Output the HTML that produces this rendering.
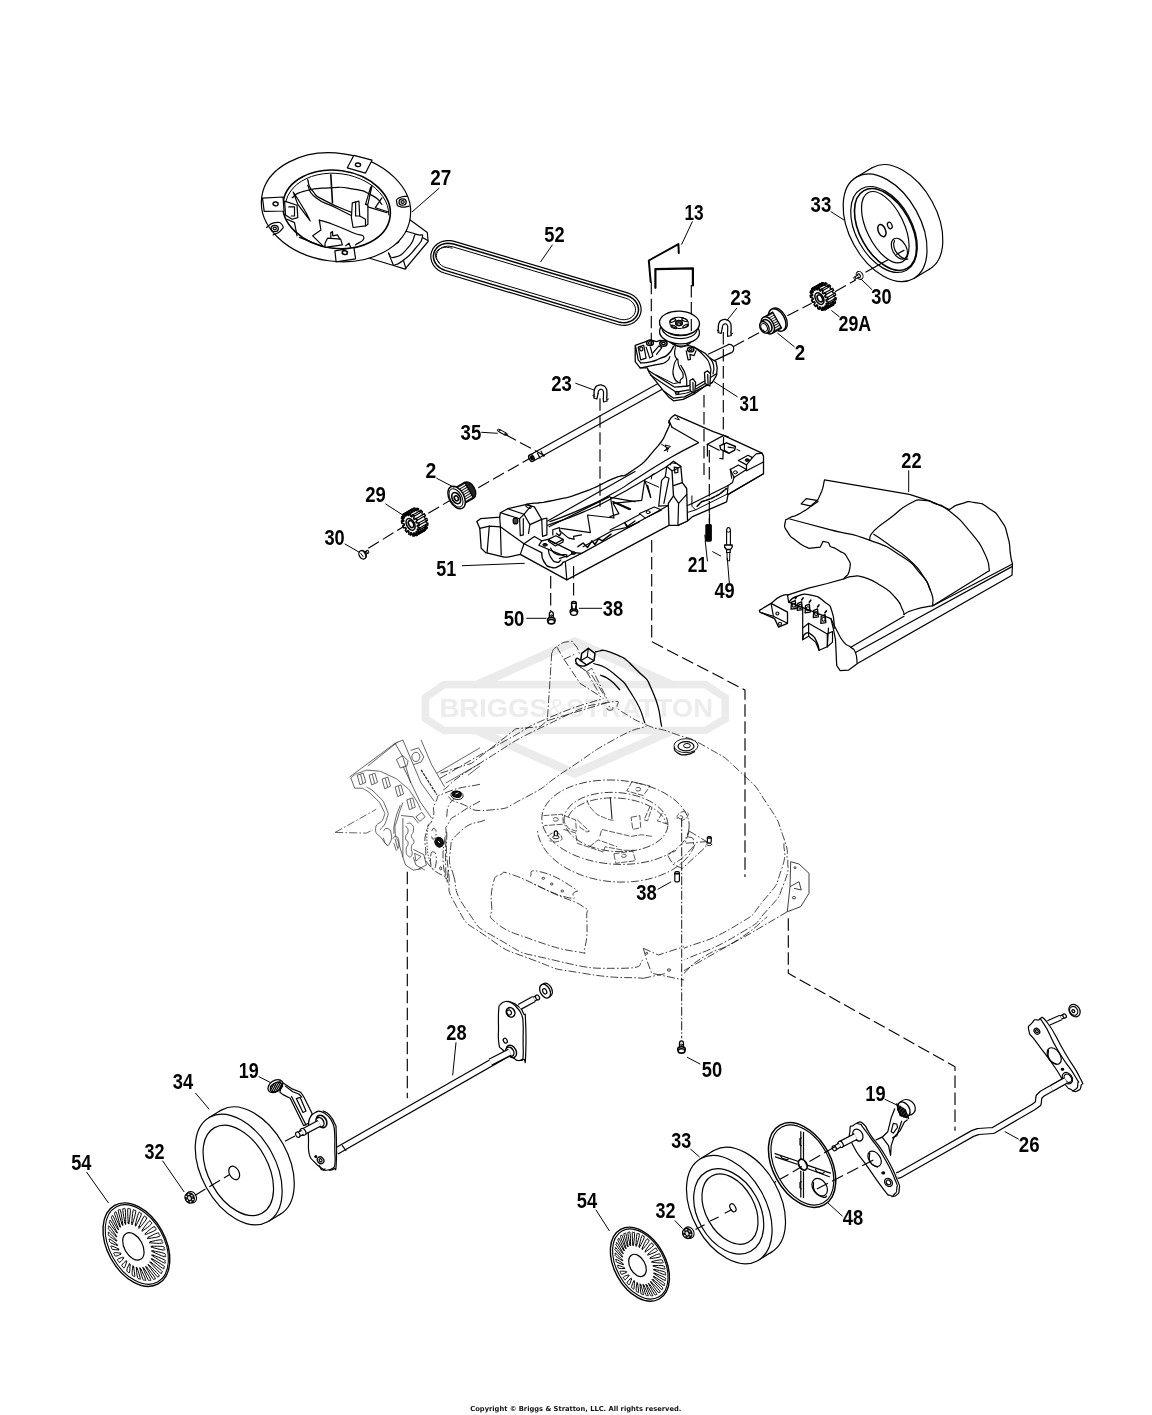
<!DOCTYPE html>
<html><head><meta charset="utf-8"><title>Parts diagram</title>
<style>
html,body{margin:0;padding:0;background:#fff}
body{width:1152px;height:1415px;overflow:hidden}
svg{display:block;will-change:transform;opacity:0.999}
.lbl{font-family:"Liberation Sans",sans-serif;font-weight:bold;font-size:22.4px;fill:#000;stroke:none;text-anchor:middle}
.cp{font-family:"DejaVu Sans","Liberation Sans",sans-serif;font-weight:bold;font-size:6.9px;fill:#111;stroke:none;text-anchor:middle}
.wm{font-family:"Liberation Sans",sans-serif;font-weight:bold;fill:#ececec;stroke:none}
</style></head><body>
<svg width="1152" height="1415" viewBox="0 0 1152 1415" fill="none" stroke="#000" stroke-width="1.2" stroke-linecap="round" stroke-linejoin="round">

<g id="p05_deck" stroke-width="0.8" stroke="#111" stroke-dasharray="8 2.2 1.6 2.2" stroke-linecap="butt">
<g stroke="#ebebeb" stroke-dasharray="none" fill="none" stroke-linejoin="miter">
<path d="M478 684.5 L574.7 641.5 L671 684.5" stroke-width="8.5"/>
<path d="M478 731 L574.7 773.5 L671 731" stroke-width="8.5"/>
<path d="M425.5 697.5 L444 684.6 L705.4 684.6 L725.2 697.5 L725.2 718.8 L705.4 730.5 L444 730.5 L425.5 718.8Z" stroke-width="7.5" fill="#fff"/>
</g>
<text class="wm" x="439.5" y="716.6" font-size="26.6" textLength="273.5" lengthAdjust="spacingAndGlyphs">BRIGGS<tspan font-weight="normal">&amp;</tspan>STRATTON</text>
<path d="M443.3 790 C455.5 781.1 444.4 785.5 480 763.3 C515.6 741.1 507.8 743.5 550 723.3 C592.2 703.1 582.8 706.6 606.7 702.7 C630.6 698.8 608.4 704.3 621.7 711.7 C635 719.1 629.5 717.8 646.7 725 C663.9 732.2 653.3 725.9 673.3 733.3 C693.3 740.7 684.5 734.5 706.7 747.3 C728.9 760.1 720 753 740 771.7 C760 790.4 752.3 781.6 766.7 803.3 C781.1 825 776.4 817.8 783.3 836.7 C790.2 855.6 786 852.2 787.3 860"/>
<path d="M440 778.3 C462.2 765.5 470 760.3 506.7 740 C543.4 719.7 517.8 731.2 550 717.3 C582.2 703.4 585.5 704.6 603.3 698.3"/>
<path d="M448.3 796.7 C452.2 798.9 446.1 798.9 460 803.3 C473.9 807.7 467.8 812.2 490 810 C512.2 807.8 501.1 810 526.7 796.7 C552.3 783.4 537.8 788.9 566.7 770 C595.6 751.1 586.6 754.7 613.3 740 C640 725.3 635.6 730.7 646.7 726"/>
<path d="M446.7 816.7 C447.8 812.2 445.6 810 450 803.3 C454.4 796.6 456.7 798.9 460 796.7"/>
<path d="M551.7 653.3 L550 680 L547.3 720.7 L540 726.7 L516 728.7 L471.7 763.3 L440 773.3"/>
<path d="M547.3 720.7 L606.7 702.7"/>
<path d="M551.7 653.3 C553.4 651.1 551.2 650.6 556.7 646.7 C562.2 642.8 562.2 642.3 568.3 641.7 C574.4 641.1 571.1 640.6 575 645 C578.9 649.4 578.3 651.7 580 655"/>
<path d="M556.7 646.7 L564 659.3 L575 654"/>
<path d="M564 659.3 L580 683.3 L603.3 698.3"/>
<path d="M575 663.3 L586.7 671.7 L600 695"/>
<path d="M580 666.7 L591.7 675 L605 696.7"/>
<path d="M586.7 671.7 L591.7 668.3 L608.3 701.7"/>
<ellipse cx="610" cy="708.3" rx="3" ry="2"/>
<path d="M784 843.3 C783.1 852.2 788 851.1 781.3 870 C774.6 888.9 779.8 881.1 764 900 C748.2 918.9 760.7 910.6 734 926.7 C707.3 942.8 700.7 941.1 684 948.3"/>
<path d="M788 860 C786.7 867.8 790.9 866.6 784 883.3 C777.1 900 782.9 892.8 767.3 910 C751.7 927.2 765.1 918.3 737.3 935 C709.5 951.7 701.8 951.7 684 960"/>
<path d="M787.3 911.7 L750.7 933.3 L717.3 951.7 L684 970.7"/>
<path d="M790.7 861.7 L799 864 L809 873.3 L809 893.3 L800.7 906.7 L787.3 911.7 L790 886.7 L790.7 861.7" stroke-dasharray="none"/>
<path d="M790 886.7 L799 881.7 L801.3 890 L794 888.3" stroke-dasharray="none"/>
<ellipse cx="795" cy="867.7" rx="1" ry="1"/>
<ellipse cx="794" cy="897.7" rx="1.6" ry="1.2"/>
<path d="M446.7 831.7 C447.2 844.5 445 845 448.3 870 C451.6 895 443.9 884.5 456.7 906.7 C469.5 928.9 461.2 918.9 486.7 936.7 C512.2 954.5 501.1 947.8 533.3 960 C565.5 972.2 546.6 967.2 583.3 973.3 C620 979.4 623.3 976.6 643.3 978.3"/>
<path d="M453.3 875 C457.8 886.7 451.1 888.3 466.7 910 C482.3 931.7 471.1 923.3 500 940 C528.9 956.7 513.3 950.6 553.3 960 C593.3 969.4 590 968.3 620 968.3 C650 968.3 635.5 962.8 643.3 960"/>
<path d="M485 820 C476.7 823.9 471.7 820.6 460 831.7 C448.3 842.8 452.2 838.9 450 853.3 C447.8 867.7 452.2 867.8 453.3 875"/>
<path d="M445 836.7 C444.4 845.6 442.2 847.8 443.3 863.3 C444.4 878.8 446.6 876.6 448.3 883.3"/>
<path d="M643.3 948.3 L646.7 960 L651.7 973.3 L684 980"/>
<path d="M643.3 948.3 L658.3 955 L684 946.7"/>
<path d="M643.3 978.3 L666.7 973.3"/>
<ellipse cx="669" cy="970" rx="1.6" ry="1.2"/>
<ellipse cx="646.7" cy="953.3" rx="1" ry="1"/>
<path d="M684 973.3 C690.7 967.8 686.2 967.8 704 956.7 C721.8 945.6 716.2 953.3 737.3 940 C758.4 926.7 757.3 924.5 767.3 916.7"/>
<path d="M500 875 C505.3 872.8 499.1 870.1 513.3 875 C527.5 879.9 534.6 884.8 553.3 893.3 C572 901.8 574.4 900.5 583.3 906.7 C592.2 912.9 586.2 906 586.7 916.7 C587.2 927.4 587.7 937.4 585 946.7 C582.3 956 590.5 953.5 576.7 951.7 C562.9 949.9 554.6 947.6 533.3 940 C512 932.4 507.8 932.2 496.7 923.3 C485.6 914.4 492.6 917.4 491.7 906.7 C490.8 896 491.1 891.8 493.3 883.3 C495.5 874.8 494.7 877.2 500 875Z"/>
<path d="M530 876.7 C533.3 875 526.1 868.4 540 871.7 C553.9 875 560.6 879.5 571.7 886.7 C582.8 893.9 575 889.8 573.3 893.3 C571.6 896.8 580 900.4 566.7 897.3 C553.4 894.2 544.4 888.4 533.3 884"/>
<ellipse cx="543.3" cy="878.3" rx="1.3" ry="1"/>
<ellipse cx="551.7" cy="884" rx="1.3" ry="1"/>
<ellipse cx="562.3" cy="891" rx="1.3" ry="1"/>
<ellipse cx="615.5" cy="822.2" rx="73.8" ry="42" transform="rotate(4 615.5 822.2)"/>
<ellipse cx="616" cy="822" rx="52" ry="29.5" transform="rotate(4 616 822)"/>
<path d="M695 844.5 L692.3 850.4 L688.6 856 L683.8 861.2 L678.1 866 L671.5 870.3 L664.1 873.9 L656.1 877 L647.4 879.4 L638.4 881 L629 882 L619.5 882.1 L609.9 881.6 L600.4 880.3 L591.2 878.2 L582.3 875.5 L574 872.1 L566.2 868.1 L559.2 863.6 L553 858.6 L547.7 853.2 L543.5 847.4 L540.3 841.4 L538.2 835.2 L537.2 829"/>
<path d="M568.2 816.9 L569.8 813.9 L571.9 811.1 L574.7 808.5 L578.1 806.1 L582 804 L586.4 802.1 L591.2 800.6 L596.3 799.4 L601.7 798.5 L607.3 798 L613.1 797.8 L618.9 798.1 L624.7 798.7 L630.3 799.6 L635.8 800.9 L641.1 802.5 L646 804.4 L650.5 806.6 L654.6 809.1 L658.1 811.7 L661.1 814.6 L663.5 817.5 L665.3 820.6 L666.4 823.8"/>
<g stroke-dasharray="6 1.5" stroke-width="0.75" stroke="#222">
<path d="M586.8 799.9 C588.8 803.4 587.4 804.5 592.9 810.3 C598.4 816.1 595.8 813.8 603.3 817.3 C610.8 820.8 611.4 819.6 615.5 820.8"/>
<path d="M610.3 797.3 L612 819" stroke-width="1.1" stroke-dasharray="none"/>
<path d="M650.2 806 L644.1 819.9 L647.6 820.8 L651.9 807.7"/>
<path d="M662.4 813 L657.2 820.8 L667.6 824.2"/>
<path d="M631.1 817.3 L639.8 815.6 L640.7 827.7 L632.8 829.4 L631.1 817.3"/>
<path d="M564.3 815.6 L575.6 819.9 L576.4 831.2 L568.6 828.6 L564.3 822.5"/>
<path d="M577.3 819.9 L589.4 831.2 L586.8 832 L578.2 826"/>
<path d="M563.4 829.4 L575.6 832.9 L577.3 843.3 L603.3 852 L605.1 846.8 L624.2 850.3 L634.6 850.3"/>
<path d="M589.4 846.8 L598.1 839.9 L617.2 846.8"/>
<path d="M599.9 836.4 L601.6 829.4 L631.1 836.4 L641.5 834.7 L651.9 836.4"/>
<path d="M632 781.7 L650.2 786 L643.3 795.6 L626.8 790.9 L632 781.7"/>
<ellipse cx="638.1" cy="789.2" rx="2.6" ry="1.8"/>
<path d="M543.4 815.6 L562.5 814.2 L563.4 824.2 L544.3 825.6"/>
<ellipse cx="555.6" cy="819.4" rx="2.6" ry="1.8"/>
<path d="M613.8 853.8 L632.8 851.1 L635.5 860.7 L615.8 863.3 L613.8 853.8"/>
<ellipse cx="623.8" cy="855.8" rx="2.4" ry="1.6"/>
<path d="M677.1 819 C677.7 817.3 676 816.1 678.9 813.8 C681.8 811.5 682.9 811.2 685.8 812.1 C688.7 813 688.9 813.5 687.5 816.4 C686.1 819.3 683.5 819.3 681.5 820.8"/>
<ellipse cx="680.6" cy="817.3" rx="2.2" ry="1.6"/>
<path d="M547.8 836.4 C550.1 835.2 550.1 832.6 554.7 832.9 C559.3 833.2 560.8 834.4 561.7 837.3 C562.6 840.2 561.4 840.5 557.3 841.6 C553.2 842.7 552.1 841 549.5 840.7"/>
</g>
<path d="M689.3 831.2 L706.6 841.6 L705.8 846.8 L682.3 868.5 L672.8 864.2 L667.6 855.1 L676.2 850.3"/>
<path d="M687.5 836.4 C689.5 838.1 693.9 835.8 693.6 841.6 C693.3 847.4 693.6 846.3 686.7 853.8 C679.8 861.3 677.4 860.7 672.8 864.2"/>
<path d="M689.3 831.2 L684.9 843.3 L706.6 841.6"/>
<g stroke-dasharray="none" stroke-width="0.7" stroke="#222">
<path d="M335.2 832.4 L376.2 809.3" stroke-dasharray="8 2.2 1.6 2.2"/>
<path d="M335.2 832.4 L366.5 833.1 L373 829.8" stroke-dasharray="8 2.2 1.6 2.2"/>
<path d="M350.8 777.8 C353.8 776.1 352.5 775 359.9 772.6 C367.3 770.2 363.4 769.7 373 770.6 C382.6 771.5 378.6 770.6 388.6 775.2 C398.6 779.8 394.7 777.4 402.9 784.3 C411.1 791.2 407.2 787.3 413.3 796 C419.4 804.7 418.5 805.5 421.1 810.3"/>
<path d="M362.6 788.2 C366.1 790.8 366.5 789.5 373 796 C379.5 802.5 378.6 800.3 382.1 807.7 C385.6 815.1 385.6 811.2 383.4 818.1 C381.2 825 376 821.5 375.6 828.5 C375.2 835.5 378.2 833.3 382.1 839 C386 844.7 385.6 843.3 387.3 845.5"/>
<path d="M366.5 786.9 C370 789.5 370.4 787.8 376.9 794.7 C383.4 801.6 382.8 799.5 386 807.7 C389.2 815.9 388.6 812 386.6 819.4 C384.6 826.8 382.3 826.3 380.1 829.8"/>
<path d="M350.8 777.8 L354.7 788.2 L362.6 788.2"/>
<path d="M349.5 777.1 L395.1 743.3 L402.9 740"/>
<path d="M367.8 766 L397.7 742"/>
<path d="M395.1 743.3 L402.9 756.9 L410.7 783"/>
<path d="M357.3 775.2 L363.2 773.2 L365.8 782.3 L359.9 784.9 L357.3 775.2"/>
<path d="M360.6 774.5 L362.8 783.2"/>
<path d="M369.1 775.2 L374.9 773.2 L377.5 782.3 L371.7 784.9 L369.1 775.2"/>
<path d="M372.3 774.5 L374.5 783.2"/>
<path d="M382.1 779.1 L387.9 777.1 L390.5 786.2 L384.7 788.8 L382.1 779.1"/>
<path d="M385.3 778.4 L387.6 787.1"/>
<path d="M395.1 786.9 L401 784.9 L403.6 794 L397.7 796.6 L395.1 786.9"/>
<path d="M398.4 786.2 L400.6 794.9"/>
<path d="M406.8 799.9 L412.7 797.9 L415.3 807.1 L409.4 809.7 L406.8 799.9"/>
<path d="M410.1 799.2 L412.3 808"/>
<path d="M415.9 816.8 L421.8 812.3 L425.1 816.8 L419.8 821.4 L415.9 816.8"/>
<path d="M402.9 802.5 C401.2 807.7 400.3 808.6 397.7 818.1 C395.1 827.6 394.7 822.4 395.1 831.1 C395.5 839.8 396.4 835.5 399 844.2 C401.6 852.9 401.6 852.9 402.9 857.2"/>
<path d="M400.3 805.1 C398.6 810.3 397.3 811.1 395.1 820.7 C392.9 830.3 394.2 829.4 393.8 833.8"/>
<path d="M401 815.5 L413.3 816.8 L418.5 823.3"/>
<path d="M402.9 818.1 L402.9 857.2 L405.5 865 L413.3 870.2 L421.1 868.9"/>
<path d="M406.8 823.3 C408.5 823.7 409.8 822 412 824.6 C414.2 827.2 413.5 827.2 413.3 831.1 C413.1 835 411.2 832.9 411.4 836.4 C411.6 839.9 414 838.1 414 841.6 C414 845.1 412.1 842.5 411.4 846.8 C410.7 851.1 413.1 851.6 412 854.6 C410.9 857.6 410 857.6 408.1 855.9 C406.2 854.2 406.2 853.7 406.2 849.4 C406.2 845.1 408.3 846.8 408.1 842.9 C407.9 839 405.5 841.6 405.5 837.7 C405.5 833.8 408.1 835 408.1 831.1 C408.1 827.2 406.4 827.6 405.5 825.9"/>
<path d="M383.4 831.1 C384.7 830.2 384.7 827.6 387.3 828.5 C389.9 829.4 390.3 829 391.2 833.8 C392.1 838.6 391.6 839.4 389.9 842.9 C388.2 846.4 388.2 845.9 386 844.2 C383.8 842.5 384.3 839.9 383.4 837.7"/>
<path d="M392.5 839 C393.8 838.1 394.2 835.1 396.4 836.4 C398.6 837.7 398.6 838.6 399 842.9 C399.4 847.2 398.1 847.2 397.7 849.4"/>
<path d="M395.1 839 L397.7 848.1"/>
<path d="M393.8 842.9 L396.4 850.7"/>
<path d="M413.3 849.4 L423.8 854.6 L426.4 865 L418.5 868.9"/>
<path d="M414.6 853.3 L421.1 856.5 L415.9 861.1 L414.6 853.3"/>
<path d="M413.3 857.2 L415.9 865 L425.1 870.2"/>
<path d="M396.4 759.5 L402.9 755.6 L408.1 760.8 L406.8 766 L400.3 768 L396.4 759.5"/>
<path d="M410.7 750.4 L418.5 747.8 L423.8 756.9 L421.1 762.1 L413.3 764.7"/>
<ellipse cx="415.9" cy="756.9" rx="4" ry="4.6"/>
<path d="M402.9 740 L413.3 764.7 L421.1 783 L434.2 801.2"/>
<path d="M421.1 740 L431.6 764.7 L444.6 786.9"/>
<path d="M402.9 766 L419.8 801.2 L431.6 818.1"/>
<path d="M421.1 769.9 L436.8 794.7" stroke-width="1.2" stroke-dasharray="3 1"/>
<path d="M436.8 773.2 L480 747.8"/>
<path d="M445.9 783 L480 763.4"/>
<path d="M468 775.2 L480 766"/>
</g>
<path d="M480 801.2 C473.4 805.1 470.7 805.5 460.2 812.9 C449.7 820.3 453.3 814.6 448.5 823.3 C443.7 832 446.8 820.1 445.9 839 C445 857.9 445.9 866.3 445.9 880"/>
<path d="M480 784.3 C469.1 786.9 462 786 447.2 792.1 C432.4 798.2 440.3 793.8 435.5 802.5 C430.7 811.2 435.9 808.6 432.9 818.1 C429.9 827.6 428.8 820.2 426.4 831.1 C424 842 424.8 839.4 425.7 850.7 C426.6 862 421.8 855.9 429 865 C436.2 874.1 441.1 873.7 447.2 878"/>
<path d="M428.3 824.6 C427.9 831.1 426.3 831.2 427 844.2 C427.7 857.2 429.2 857.2 430.3 863.7" stroke-dasharray="1.5 1.5"/>
<path d="M431.6 831.1 C432.5 830.2 432.7 827.6 434.2 828.5 C435.7 829.4 436.3 830.3 436.1 833.8 C435.9 837.3 435 838.1 433.5 839 C432 839.9 432.2 837.3 431.6 836.4"/>
<path d="M430.9 854.6 C431.6 851.1 432.1 851.7 433.5 852 C434.9 852.3 435.6 852.1 436.1 855.9 C436.6 859.7 436.4 862.8 435.5 866.3 C434.6 869.8 434.1 869.2 432.9 868.9 C431.7 868.6 431.4 868.8 430.9 865 C430.4 861.2 430.2 858.1 430.9 854.6Z"/>
<ellipse cx="440.7" cy="868.3" rx="1" ry="1.6"/>
<path d="M448.3 870 L446.7 883.3"/>
<g stroke-dasharray="none" stroke="#000">
<path d="M595 651.7 C601.1 652.2 599.4 647.2 613.3 653.3 C627.2 659.4 623.4 656.7 636.7 670 C650 683.3 645 674.4 653.3 693.3 C661.6 712.2 658.9 715.6 661.7 726.7" stroke-width="1.3"/>
<path d="M593.3 663.3 C600 666.6 600 662.2 613.3 673.3 C626.6 684.4 622.7 680 633.3 696.7 C643.9 713.4 641.1 714.4 645 723.3" stroke-width="1.2"/>
<path d="M600 675 C603.3 676.7 603.3 675 610 680 C616.7 685 616.7 686.7 620 690" stroke-width="1.4"/>
<path d="M581.7 653.3 L588.3 648.3 L595 653.3 L594 660.7 L586.7 665 L580.7 660.7Z" stroke-width="1.5" fill="#fff"/>
<path d="M580.7 660.7 C579.4 659.9 578 657.4 576.7 658.3 C575.4 659.2 575 660.7 576.7 663.3 C578.4 665.9 578.4 665.4 581.7 666 C585 666.6 585 665.3 586.7 665" stroke-width="1.4"/>
<path d="M588.3 648.3 L587.3 656.7 L594 660.7" stroke-width="1.1"/>
<path d="M587.3 656.7 L580.7 660.7" stroke-width="1.1"/>
<ellipse cx="457" cy="795.3" rx="6.2" ry="4.2" stroke-width="0.8" fill="#fff" transform="rotate(10 457 795.3)"/>
<ellipse cx="456.7" cy="794.3" rx="4.6" ry="3" stroke-width="1" fill="#111" transform="rotate(10 456.7 794.3)"/>
<ellipse cx="439.1" cy="842.2" rx="4.2" ry="5" stroke-width="1" fill="#111" transform="rotate(-20 439.1 842.2)"/>
<path d="M455.5 794 l3 -1.2 M438 841 l2 2" stroke="#fff" stroke-width="0.9"/>
<path d="M554.3 835.8 l0 -4 q1.6 -2 3.2 0 l0 4" stroke-width="1.3" fill="#fff"/>
<ellipse cx="555.9" cy="837.2" rx="3.2" ry="1.6" stroke-width="0.9"/>
<ellipse cx="686" cy="745.7" rx="12" ry="7" stroke-width="0.9"/>
<ellipse cx="686" cy="746.2" rx="8" ry="4.6" stroke-width="1.2"/>
<ellipse cx="687" cy="745.7" rx="3.4" ry="2.2" stroke-width="1.0"/>
<path d="M674 747.3 C675.1 749.1 673.1 750.2 677.3 752.7 C681.5 755.2 680.8 755.2 686.7 754.7 C692.6 754.2 692.2 752.4 695 751.3" stroke-width="1.3"/>
</g>
</g>
<g id="p10_wheels">
<ellipse cx="900.9" cy="218.4" rx="58.2" ry="35.5" fill="#fff" transform="rotate(61 900.9 218.4)"/>
<path d="M856.3 177.2 L872.1 167.8 L929.7 269 L913.9 278.4Z" fill="#fff" stroke="none"/>
<path d="M856.3 177.2 L872.1 167.8"/>
<path d="M913.9 278.4 L929.7 269"/>
<ellipse cx="885.1" cy="227.8" rx="58.2" ry="35.5" fill="#fff" transform="rotate(61 885.1 227.8)"/>
<ellipse cx="884" cy="229.5" rx="46.5" ry="28" transform="rotate(61 884 229.5)"/>
<ellipse cx="885.5" cy="229.5" rx="44.5" ry="25.5" stroke-width="1.6" transform="rotate(61 885.5 229.5)"/>
<ellipse cx="885.3" cy="227.2" rx="38.6" ry="18.6" transform="rotate(64 885.3 227.2)"/>
<ellipse cx="250.8" cy="1162.2" rx="59.8" ry="37" fill="#fff" transform="rotate(61 250.8 1162.2)"/>
<path d="M209 1117.6 L221.1 1110.3 L280.5 1214.1 L268.4 1221.4Z" fill="#fff" stroke="none"/>
<path d="M209 1117.6 L221.1 1110.3"/>
<path d="M268.4 1221.4 L280.5 1214.1"/>
<ellipse cx="238.7" cy="1169.5" rx="59.8" ry="37" fill="#fff" transform="rotate(61 238.7 1169.5)"/>
<ellipse cx="238.3" cy="1170.4" rx="48.9" ry="29.8" transform="rotate(61 238.3 1170.4)"/>
<ellipse cx="234.2" cy="1172.9" rx="7.2" ry="4.8" transform="rotate(61 234.2 1172.9)"/>
<ellipse cx="881.9" cy="230.6" rx="6.4" ry="3.6" stroke-width="1.5" transform="rotate(68 881.9 230.6)"/>
<ellipse cx="889.8" cy="225.5" rx="3.4" ry="2.2" transform="rotate(68 889.8 225.5)"/>
<ellipse cx="899.4" cy="248.7" rx="11.2" ry="7" fill="#fff" transform="rotate(62 899.4 248.7)"/>
<path d="M894.5 240.5 C894.3 242.7 892.8 242.5 894 247 C895.2 251.5 894.7 250.2 898 254 C901.3 257.8 900.7 256.8 904 258.5 C907.3 260.2 906.7 258.8 908 259"/>
<path d="M866 272 L887.6 260"/>
<path d="M896.6 254.3 L903.9 250.4"/>
<ellipse cx="742.7" cy="1201.3" rx="58.4" ry="36.7" fill="#fff" transform="rotate(61 742.7 1201.3)"/>
<path d="M700 1159.1 L713.4 1150.8 L772 1251.8 L758.6 1260.1Z" fill="#fff" stroke="none"/>
<path d="M700 1159.1 L713.4 1150.8"/>
<path d="M758.6 1260.1 L772 1251.8"/>
<ellipse cx="729.3" cy="1209.6" rx="58.4" ry="36.7" fill="#fff" transform="rotate(61 729.3 1209.6)"/>
<ellipse cx="728.7" cy="1211.4" rx="45.5" ry="31.1" transform="rotate(61 728.7 1211.4)"/>
<ellipse cx="730" cy="1209.1" rx="37.8" ry="24.3" transform="rotate(61 730 1209.1)"/>
<ellipse cx="732.9" cy="1207.8" rx="4.3" ry="2.6" transform="rotate(61 732.9 1207.8)"/>
</g>
<g id="p20_rightaxle">
<path d="M1066.6 1079.9 L1042.2 1093.6 L1038.9 1096.9 L1038.2 1103.5 L1033.3 1107.1 L993.2 1130.5 L978.3 1131.5 L972.6 1133.5 L900 1174.7 L897 1175.5" stroke="#000" stroke-width="7.2" stroke-linecap="butt" fill="none"/>
<path d="M1066.6 1079.9 L1042.2 1093.6 L1038.9 1096.9 L1038.2 1103.5 L1033.3 1107.1 L993.2 1130.5 L978.3 1131.5 L972.6 1133.5 L900 1174.7 L897 1175.5" stroke="#fff" stroke-width="4.8" stroke-linecap="butt" fill="none"/>
<path d="M1039.4 1019.4 C1042.1 1020.6 1039.1 1011.9 1047.6 1023 C1056.1 1034.1 1054.2 1034.6 1064.9 1052.7 C1075.6 1070.8 1074.4 1066.4 1079.8 1077.4 C1085.2 1088.4 1081.9 1081.2 1081.1 1085.7 C1080.3 1090.2 1080.2 1089.2 1077.3 1090.9 C1074.4 1092.6 1074 1090.9 1072.4 1090.9" fill="#fff"/>
<path d="M1031.9 1023 C1034.8 1019.3 1033.6 1019.5 1037.7 1020 C1041.8 1020.5 1037.4 1014.3 1044.3 1024.6 C1051.2 1034.9 1048.1 1033.9 1058.3 1051 C1068.5 1068.1 1068.3 1064.8 1074.8 1075.8 C1081.3 1086.8 1077.8 1079.3 1077.8 1084 C1077.8 1088.7 1077.2 1088 1074.8 1089.8 C1072.4 1091.6 1074 1091.2 1070.7 1089.3 C1067.4 1087.4 1070.1 1091.3 1064.9 1084 C1059.7 1076.7 1064.3 1081.2 1055 1067.5 C1045.7 1053.8 1045.6 1054.9 1036.9 1042.8 C1028.2 1030.7 1030.7 1037.8 1029 1031.2 C1027.3 1024.6 1029 1026.7 1031.9 1023Z" fill="#fff"/>
<ellipse cx="1036.9" cy="1031.2" rx="3.2" ry="2.6" transform="rotate(50 1036.9 1031.2)"/>
<ellipse cx="1036.9" cy="1031.2" rx="1.6" ry="1.2" transform="rotate(50 1036.9 1031.2)"/>
<ellipse cx="1054.2" cy="1056" rx="9.2" ry="5.8" transform="rotate(55 1054.2 1056)"/>
<path d="M1048.4 1050.2 C1048.7 1053.2 1046.5 1054.6 1049.3 1059.3 C1052.1 1064 1054.2 1062.6 1056.7 1064.2"/>
<ellipse cx="1062.5" cy="1069.2" rx="1.2" ry="0.9" fill="#000"/>
<ellipse cx="1067.4" cy="1078.2" rx="6.2" ry="4.6" fill="#fff" transform="rotate(55 1067.4 1078.2)"/>
<ellipse cx="1067.9" cy="1078.2" rx="4.6" ry="3.2" fill="#fff" transform="rotate(55 1067.9 1078.2)"/>
<path d="M1065.8 1080.4 L1051.7 1088.3" stroke="#000" stroke-width="7.2" stroke-linecap="butt" fill="none"/>
<path d="M1065.8 1080.4 L1051.7 1088.3" stroke="#fff" stroke-width="4.8" stroke-linecap="butt" fill="none"/>
<path d="M1048.4 1023 L1060.8 1017.5" stroke="#000" stroke-width="6.2" stroke-linecap="butt" fill="none"/>
<path d="M1048.4 1023 L1060.8 1017.5" stroke="#fff" stroke-width="3.8" stroke-linecap="butt" fill="none"/>
<path d="M1060.8 1017.5 L1064.6 1015.9" stroke="#000" stroke-width="4.8" stroke-linecap="butt" fill="none"/>
<path d="M1060.8 1017.5 L1064.6 1015.9" stroke="#fff" stroke-width="2.4" stroke-linecap="butt" fill="none"/>
<ellipse cx="1064.6" cy="1015.9" rx="2.2" ry="1.6" fill="#fff" transform="rotate(60 1064.6 1015.9)"/>
<ellipse cx="1074.5" cy="1010.6" rx="6.6" ry="5.2" fill="#fff" transform="rotate(55 1074.5 1010.6)"/>
<ellipse cx="1073.7" cy="1010.9" rx="4.6" ry="3.8" transform="rotate(55 1073.7 1010.9)"/>
<ellipse cx="1073.3" cy="1011.1" rx="1.6" ry="1.3" transform="rotate(55 1073.3 1011.1)"/>
<ellipse cx="802.1" cy="1165" rx="45.6" ry="29" stroke-width="1.5" fill="#fff" transform="rotate(61 802.1 1165)"/>
<ellipse cx="802.4" cy="1165" rx="43.2" ry="26.8" stroke-width="1.2" transform="rotate(61 802.4 1165)"/>
<path d="M800.8 1131.7 L800.8 1159.4"/>
<path d="M803.5 1132.4 L803.5 1159.2"/>
<path d="M800.8 1171.2 L800.8 1196.9"/>
<path d="M803.5 1171.9 L803.5 1197.6"/>
<path d="M775 1153.6 L797.8 1161.2"/>
<path d="M775.3 1156.9 L797.2 1164.2"/>
<path d="M807.9 1165.4 L830.4 1173.1"/>
<path d="M807.9 1168.8 L829.4 1176.7"/>
<path d="M801.1 1137.9 L800 1138.6 L800 1144.9 L801.1 1145.6"/>
<path d="M801.1 1181.7 L800 1182.4 L800 1187.9 L801.1 1188.9"/>
<path d="M780.8 1156.4 L782.2 1158.3 L787.1 1159.9 L788.5 1158.8"/>
<path d="M815.6 1169.4 L816.7 1171.7 L822.5 1173.6 L824.2 1172.6"/>
<ellipse cx="802.8" cy="1164.6" rx="5.8" ry="3.8" stroke-width="1.8" fill="#fff" transform="rotate(61 802.8 1164.6)"/>
<ellipse cx="819.7" cy="1187.2" rx="9.5" ry="6.8" fill="#fff" transform="rotate(55 819.7 1187.2)"/>
<path d="M813.5 1182.4 C814 1185.4 811.9 1186.6 814.9 1191.4 C817.9 1196.2 818.6 1195.3 822.5 1196.9 C826.4 1198.5 825.3 1196.4 826.7 1196.2"/>
<path d="M857.2 1122.6 C859.3 1123.1 858.9 1119.6 863.5 1124 C868.1 1128.4 863.9 1125.4 871.1 1135.8 C878.3 1146.2 876.4 1140.9 885 1155.3 C893.6 1169.7 892.1 1167.6 896.8 1178.9 C901.5 1190.2 899.2 1184 899.2 1189.3 C899.2 1194.6 899.2 1192.4 896.8 1194.9 C894.4 1197.4 893.5 1196.1 891.9 1196.7" fill="#fff"/>
<path d="M850 1130.3 C850.1 1123.6 850.2 1127.5 853.3 1125.4 C856.4 1123.3 855.9 1123.1 859.3 1124 C862.7 1124.9 859.6 1123.3 863.5 1128.2 C867.4 1133.1 864.4 1129.1 871.1 1138.6 C877.8 1148.1 875.7 1143.3 883.6 1156.7 C891.5 1170.1 890.3 1168.3 894.7 1178.9 C899.1 1189.5 896.9 1183.5 896.8 1188.6 C896.7 1193.7 896.7 1192 894.4 1194.2 C892.1 1196.4 893.5 1196.9 889.9 1195.3 C886.3 1193.7 890.8 1198.5 883.6 1189.3 C876.4 1180.1 878.5 1182.4 868.3 1167.8 C858.1 1153.2 859.2 1158.1 853.1 1145.6 C847 1133.1 849.9 1137 850 1130.3Z" fill="#fff"/>
<ellipse cx="874.6" cy="1158.8" rx="8.6" ry="5.6" transform="rotate(55 874.6 1158.8)"/>
<path d="M869.7 1153.2 C869.9 1156.2 867.8 1157.6 870.4 1162.2 C873 1166.8 875.1 1165.5 877.4 1167.1"/>
<ellipse cx="883.3" cy="1172.9" rx="1.4" ry="1.1" fill="#000"/>
<ellipse cx="888.5" cy="1182.4" rx="4.4" ry="3.6" fill="#fff" transform="rotate(50 888.5 1182.4)"/>
<ellipse cx="888.5" cy="1182.4" rx="2.6" ry="2.1" transform="rotate(50 888.5 1182.4)"/>
<ellipse cx="857.9" cy="1135.1" rx="6.4" ry="4.6" fill="#fff" transform="rotate(60 857.9 1135.1)"/>
<path d="M855.8 1136.5 L840.6 1144.4" stroke="#000" stroke-width="7.4" stroke-linecap="butt" fill="none"/>
<path d="M855.8 1136.5 L840.6 1144.4" stroke="#fff" stroke-width="5" stroke-linecap="butt" fill="none"/>
<ellipse cx="840.6" cy="1144.4" rx="3.4" ry="2.4" fill="#fff" transform="rotate(60 840.6 1144.4)"/>
<path d="M839.9 1145 L834.7 1148.1" stroke="#000" stroke-width="5.4" stroke-linecap="butt" fill="none"/>
<path d="M839.9 1145 L834.7 1148.1" stroke="#fff" stroke-width="3" stroke-linecap="butt" fill="none"/>
<ellipse cx="834.3" cy="1148.3" rx="2.6" ry="1.9" fill="#fff" transform="rotate(60 834.3 1148.3)"/>
<path d="M894.7 1108.8 L891.2 1117.8 L887.8 1131.7 L882.9 1136.5 L876 1140 L882.2 1137.2 L888.5 1145.6 L890.6 1155.3 L891.2 1145.6 L894 1137.2 L900.3 1130.3 L904.4 1121.9 L907.2 1119.9" fill="#fff"/>
<path d="M893.3 1123.3 L891.2 1131.7 L893.3 1133.1 L897.5 1127.5 L896.8 1124Z"/>
<path d="M901.7 1121.2 L896.8 1135.8 L892.6 1137.9"/>
<ellipse cx="907.2" cy="1107.4" rx="8.6" ry="7.4" fill="#fff" transform="rotate(40 907.2 1107.4)"/>
<ellipse cx="903.8" cy="1109.4" rx="8" ry="5.6" stroke-width="1.4" fill="#fff" transform="rotate(60 903.8 1109.4)"/>
<path d="M896.8 1103.9 L900.3 1115.7" stroke-width="1.4"/>
<path d="M898.5 1105 L901.9 1116.2" stroke-width="1.4"/>
<path d="M900.1 1106.1 L903.6 1116.8" stroke-width="1.4"/>
<path d="M901.8 1107.2 L905.3 1117.4" stroke-width="1.4"/>
<path d="M903.5 1108.3 L906.9 1117.9" stroke-width="1.4"/>
<path d="M905.1 1109.4 L908.6 1118.5" stroke-width="1.4"/>
</g>
<g id="p21_leftaxle">
<ellipse cx="136.4" cy="1244.7" rx="44.9" ry="29" stroke-width="1.4" fill="#fff" transform="rotate(61 136.4 1244.7)"/>
<ellipse cx="136.8" cy="1244.5" rx="42.9" ry="27.2" stroke-width="1.1" transform="rotate(61 136.8 1244.5)"/>
<ellipse cx="133.4" cy="1246.4" rx="14.8" ry="9.1" stroke-width="1.2" transform="rotate(61 133.4 1246.4)"/>
<path d="M147.2 1267.7 C149.2 1270.1 153 1274.7 154.7 1277.3 C156.4 1280 154.9 1278.6 154.4 1278.8 C153.9 1279 154.5 1280.8 152.6 1278.3 C150.7 1275.8 148 1270.7 146.4 1268.1 C144.9 1265.4 145.9 1267 146 1266.9 C146.2 1266.8 145.1 1265.2 147.2 1267.7Z" stroke-width="1.0"/>
<path d="M144.2 1268.9 C145.9 1271.4 149.1 1276.3 150.4 1279 C151.7 1281.6 150.3 1280.1 149.8 1280.1 C149.2 1280.2 149.4 1281.9 147.9 1279.3 C146.4 1276.7 144.5 1271.7 143.4 1269.1 C142.3 1266.4 143 1268 143.2 1268 C143.3 1268 142.5 1266.3 144.2 1268.9Z" stroke-width="1.0"/>
<path d="M140.9 1269.2 C142.2 1271.8 144.6 1276.7 145.5 1279.2 C146.3 1281.8 145.2 1280.2 144.6 1280.1 C144 1280 143.9 1281.4 142.8 1278.9 C141.7 1276.3 140.6 1271.6 140 1269.2 C139.3 1266.7 139.7 1268.2 139.9 1268.2 C140.1 1268.2 139.6 1266.6 140.9 1269.2Z" stroke-width="1.0"/>
<path d="M137.3 1268.7 C138.2 1271.1 139.8 1275.9 140.2 1278.2 C140.6 1280.5 139.8 1278.9 139.1 1278.7 C138.5 1278.4 138.1 1279.6 137.5 1277.2 C136.8 1274.8 136.6 1270.6 136.4 1268.4 C136.1 1266.1 136.3 1267.5 136.5 1267.6 C136.7 1267.6 136.4 1266.2 137.3 1268.7Z" stroke-width="1.0"/>
<path d="M133.6 1267.2 C134 1269.5 134.8 1273.8 134.8 1275.9 C134.8 1277.9 134.2 1276.3 133.6 1275.9 C132.9 1275.5 132.3 1276.4 132.1 1274.2 C131.9 1272.1 132.5 1268.6 132.7 1266.7 C132.9 1264.8 132.8 1266 133 1266.1 C133.2 1266.2 133.2 1264.9 133.6 1267.2Z" stroke-width="1.0"/>
<path d="M130 1264.9 C130 1266.9 129.9 1270.7 129.5 1272.3 C129.1 1274 128.7 1272.5 128.1 1272 C127.5 1271.5 126.6 1271.9 126.9 1270.1 C127.1 1268.3 128.5 1265.7 129.1 1264.2 C129.7 1262.8 129.3 1263.7 129.5 1263.8 C129.7 1264 130 1263 130 1264.9Z" stroke-width="1.0"/>
<path d="M126.5 1261.9 C126.1 1263.5 125.3 1266.6 124.4 1267.7 C123.6 1268.9 123.6 1267.6 123 1267 C122.5 1266.3 121.4 1266.4 122 1265 C122.7 1263.7 124.7 1262 125.7 1261.1 C126.7 1260.1 126.1 1260.7 126.3 1260.9 C126.5 1261.1 126.9 1260.3 126.5 1261.9Z" stroke-width="1.0"/>
<path d="M123.4 1258.3 C122.6 1259.4 121 1261.6 119.9 1262.2 C118.7 1262.9 118.9 1261.8 118.5 1261.1 C118 1260.4 116.8 1260.1 117.8 1259.2 C118.7 1258.3 121.3 1257.7 122.6 1257.3 C123.9 1256.9 123.1 1257.1 123.3 1257.4 C123.5 1257.6 124.2 1257.2 123.4 1258.3Z" stroke-width="1.0"/>
<path d="M120.6 1254.2 C119.5 1254.8 117.3 1256 115.9 1256.1 C114.5 1256.2 115 1255.4 114.6 1254.6 C114.2 1253.8 112.9 1253.1 114.2 1252.7 C115.5 1252.4 118.5 1252.9 120 1253.1 C121.5 1253.2 120.6 1253.1 120.7 1253.4 C120.9 1253.7 121.8 1253.6 120.6 1254.2Z" stroke-width="1.0"/>
<path d="M118.4 1249.8 C117.1 1249.8 114.4 1249.9 112.8 1249.5 C111.2 1249 111.9 1248.5 111.6 1247.7 C111.3 1246.9 110 1245.8 111.5 1246 C113 1246.2 116.3 1247.9 118 1248.6 C119.7 1249.3 118.6 1248.9 118.7 1249.1 C118.8 1249.4 119.8 1249.7 118.4 1249.8Z" stroke-width="1.0"/>
<path d="M116.9 1245.2 C115.3 1244.7 112.3 1243.7 110.6 1242.7 C108.8 1241.6 109.7 1241.5 109.5 1240.7 C109.4 1239.9 108.2 1238.5 109.8 1239.2 C111.4 1240 114.8 1242.7 116.6 1244 C118.3 1245.3 117.2 1244.5 117.3 1244.8 C117.4 1245 118.4 1245.7 116.9 1245.2Z" stroke-width="1.0"/>
<path d="M116 1240.6 C114.3 1239.6 111.1 1237.5 109.3 1236 C107.6 1234.4 108.6 1234.6 108.5 1233.8 C108.5 1233.1 107.4 1231.3 109.1 1232.6 C110.8 1234 114.1 1237.6 115.9 1239.5 C117.6 1241.3 116.5 1240.2 116.6 1240.4 C116.6 1240.7 117.7 1241.6 116 1240.6Z" stroke-width="1.0"/>
<path d="M115.8 1236.2 C114.1 1234.7 110.8 1231.6 109.1 1229.6 C107.5 1227.5 108.6 1228.1 108.6 1227.4 C108.7 1226.7 107.8 1224.7 109.5 1226.5 C111.2 1228.3 114.2 1232.9 115.9 1235.2 C117.5 1237.4 116.5 1236 116.5 1236.3 C116.5 1236.5 117.5 1237.8 115.8 1236.2Z" stroke-width="1.0"/>
<path d="M116.3 1232.2 C114.7 1230.2 111.6 1226.2 110 1223.8 C108.5 1221.3 109.6 1222.2 109.8 1221.6 C110 1221 109.3 1218.8 110.9 1221.1 C112.5 1223.4 115.1 1228.6 116.6 1231.3 C118 1234 117.1 1232.3 117.1 1232.5 C117 1232.7 118 1234.3 116.3 1232.2Z" stroke-width="1.0"/>
<path d="M117.6 1228.7 C116.1 1226.3 113.2 1221.6 111.9 1218.8 C110.6 1215.9 111.7 1217.2 112 1216.7 C112.3 1216.2 111.9 1213.9 113.3 1216.6 C114.7 1219.2 116.8 1225 118 1228 C119.2 1230.9 118.5 1229.1 118.4 1229.3 C118.3 1229.5 119.1 1231.2 117.6 1228.7Z" stroke-width="1.0"/>
<path d="M119.5 1225.9 C118.2 1223.1 115.8 1217.8 114.8 1214.7 C113.8 1211.7 114.8 1213.2 115.2 1212.8 C115.6 1212.4 115.4 1210.2 116.5 1213.1 C117.7 1216 119.2 1222.2 120 1225.3 C120.9 1228.5 120.4 1226.5 120.2 1226.7 C120.1 1226.8 120.7 1228.7 119.5 1225.9Z" stroke-width="1.0"/>
<path d="M121.9 1223.8 C121 1220.8 119.1 1215.1 118.5 1211.9 C117.8 1208.7 118.7 1210.4 119.2 1210.2 C119.7 1210 119.8 1207.8 120.6 1210.9 C121.4 1214 122.2 1220.2 122.7 1223.5 C123.1 1226.7 122.8 1224.7 122.7 1224.8 C122.5 1224.9 122.9 1226.9 121.9 1223.8Z" stroke-width="1.0"/>
<path d="M124.9 1222.6 C124.3 1219.5 123.1 1213.5 122.8 1210.3 C122.6 1207.1 123.3 1208.9 123.8 1208.9 C124.4 1208.8 124.8 1206.8 125.3 1210 C125.7 1213.1 125.7 1219.2 125.7 1222.4 C125.8 1225.7 125.7 1223.7 125.5 1223.7 C125.4 1223.8 125.5 1225.8 124.9 1222.6Z" stroke-width="1.0"/>
<path d="M128.2 1222.3 C128 1219.1 127.6 1213.1 127.7 1210 C127.9 1206.9 128.4 1208.8 129 1208.9 C129.6 1209 130.4 1207.2 130.4 1210.3 C130.4 1213.5 129.5 1219.3 129.1 1222.3 C128.7 1225.4 129 1223.5 128.8 1223.5 C128.6 1223.5 128.5 1225.4 128.2 1222.3Z" stroke-width="1.0"/>
<path d="M131.8 1222.8 C132 1219.8 132.4 1213.9 133 1211 C133.6 1208.1 133.8 1210.1 134.5 1210.3 C135.1 1210.6 136.1 1209.1 135.7 1212.1 C135.3 1215 133.6 1220.3 132.7 1223.1 C131.9 1226 132.4 1224.2 132.2 1224.2 C132 1224.1 131.6 1225.9 131.8 1222.8Z" stroke-width="1.0"/>
<path d="M135.5 1224.3 C136.1 1221.4 137.3 1216 138.4 1213.4 C139.5 1210.7 139.4 1212.7 140 1213.1 C140.7 1213.5 142 1212.3 141.1 1215 C140.3 1217.8 137.7 1222.3 136.4 1224.8 C135.2 1227.3 135.9 1225.7 135.7 1225.6 C135.5 1225.5 134.9 1227.2 135.5 1224.3Z" stroke-width="1.0"/>
<path d="M139.1 1226.6 C140.2 1224 142.2 1219.1 143.7 1216.9 C145.2 1214.7 144.9 1216.5 145.5 1217 C146.1 1217.5 147.6 1216.7 146.3 1219.1 C145.1 1221.5 141.7 1225.2 140 1227.3 C138.4 1229.3 139.4 1228.1 139.2 1227.9 C139 1227.7 138.1 1229.1 139.1 1226.6Z" stroke-width="1.0"/>
<path d="M142.6 1229.6 C144.1 1227.4 146.9 1223.3 148.8 1221.5 C150.6 1219.7 150 1221.4 150.6 1222 C151.1 1222.7 152.8 1222.2 151.2 1224.2 C149.5 1226.2 145.5 1228.9 143.4 1230.4 C141.4 1232 142.6 1231 142.4 1230.8 C142.2 1230.6 141.1 1231.8 142.6 1229.6Z" stroke-width="1.0"/>
<path d="M145.7 1233.2 C147.6 1231.5 151.1 1228.2 153.3 1227 C155.5 1225.7 154.7 1227.2 155.1 1227.9 C155.6 1228.6 157.5 1228.6 155.4 1230.1 C153.4 1231.5 148.8 1233.2 146.5 1234.2 C144.1 1235.2 145.6 1234.6 145.4 1234.4 C145.2 1234.1 143.9 1234.9 145.7 1233.2Z" stroke-width="1.0"/>
<path d="M148.5 1237.3 C150.6 1236.1 154.8 1233.8 157.3 1233.1 C159.7 1232.5 158.6 1233.6 159 1234.4 C159.4 1235.2 161.3 1235.5 159 1236.5 C156.7 1237.4 151.7 1238 149.1 1238.4 C146.5 1238.9 148.1 1238.6 148 1238.3 C147.8 1238.1 146.3 1238.5 148.5 1237.3Z" stroke-width="1.0"/>
<path d="M150.7 1241.7 C153.1 1241.1 157.8 1239.9 160.4 1239.8 C163.1 1239.6 161.7 1240.5 162 1241.3 C162.3 1242.1 164.2 1242.8 161.7 1243.2 C159.1 1243.6 153.9 1243.1 151.1 1242.9 C148.4 1242.8 150.1 1242.9 150 1242.6 C149.9 1242.3 148.2 1242.4 150.7 1241.7Z" stroke-width="1.0"/>
<path d="M152.2 1246.3 C154.9 1246.2 159.9 1246.1 162.6 1246.5 C165.4 1247 163.9 1247.5 164.1 1248.3 C164.2 1249.1 166.1 1250.2 163.4 1250 C160.7 1249.8 155.3 1248.2 152.5 1247.5 C149.7 1246.8 151.5 1247.2 151.4 1247 C151.3 1246.7 149.6 1246.4 152.2 1246.3Z" stroke-width="1.0"/>
<path d="M153.1 1250.9 C155.9 1251.4 161.1 1252.3 163.9 1253.3 C166.7 1254.3 165 1254.4 165.1 1255.2 C165.1 1255.9 166.9 1257.3 164.1 1256.6 C161.3 1255.9 156 1253.3 153.2 1252 C150.5 1250.8 152.2 1251.6 152.1 1251.3 C152.1 1251 150.4 1250.4 153.1 1250.9Z" stroke-width="1.0"/>
<path d="M153.3 1255.3 C156.1 1256.3 161.3 1258.2 164.1 1259.7 C166.8 1261.1 165 1260.9 165 1261.6 C164.9 1262.3 166.5 1263.9 163.7 1262.7 C161 1261.5 155.9 1258 153.2 1256.3 C150.6 1254.6 152.2 1255.7 152.2 1255.4 C152.2 1255.2 150.5 1254.3 153.3 1255.3Z" stroke-width="1.0"/>
<path d="M152.8 1259.3 C155.5 1260.7 160.6 1263.6 163.2 1265.5 C165.8 1267.4 164 1266.8 163.8 1267.4 C163.6 1268 165 1269.8 162.3 1268.1 C159.7 1266.4 155 1262.3 152.5 1260.2 C150 1258.1 151.6 1259.4 151.6 1259.2 C151.7 1259 150.1 1257.8 152.8 1259.3Z" stroke-width="1.0"/>
<path d="M151.5 1262.8 C154.1 1264.6 158.9 1268.2 161.3 1270.5 C163.6 1272.7 161.9 1271.8 161.6 1272.3 C161.3 1272.8 162.4 1274.7 159.9 1272.6 C157.5 1270.6 153.3 1265.9 151.1 1263.5 C148.9 1261.2 150.2 1262.6 150.3 1262.4 C150.4 1262.3 149 1260.9 151.5 1262.8Z" stroke-width="1.0"/>
<path d="M149.6 1265.6 C152 1267.8 156.4 1272 158.4 1274.5 C160.5 1277 158.8 1275.8 158.4 1276.2 C158 1276.6 158.8 1278.4 156.7 1276.1 C154.5 1273.8 151 1268.8 149.1 1266.2 C147.1 1263.6 148.3 1265.2 148.5 1265.1 C148.6 1264.9 147.3 1263.4 149.6 1265.6Z" stroke-width="1.0"/>
<ellipse cx="639.9" cy="1264.2" rx="39.8" ry="25.6" stroke-width="1.4" fill="#fff" transform="rotate(61 639.9 1264.2)"/>
<ellipse cx="640.3" cy="1264" rx="37.8" ry="23.8" stroke-width="1.1" transform="rotate(61 640.3 1264)"/>
<ellipse cx="637.5" cy="1265.4" rx="12" ry="7.6" stroke-width="1.2" transform="rotate(61 637.5 1265.4)"/>
<path d="M649.6 1284.4 C651.4 1286.5 654.7 1290.8 656.2 1293.1 C657.7 1295.4 656.4 1294.2 655.9 1294.4 C655.5 1294.6 655.9 1296.2 654.3 1294 C652.7 1291.7 650.3 1287.1 649 1284.7 C647.6 1282.3 648.5 1283.8 648.6 1283.7 C648.8 1283.6 647.8 1282.2 649.6 1284.4Z" stroke-width="1.0"/>
<path d="M647 1285.4 C648.5 1287.7 651.2 1292.2 652.3 1294.5 C653.5 1296.9 652.3 1295.5 651.8 1295.6 C651.3 1295.6 651.5 1297.1 650.2 1294.8 C648.9 1292.5 647.2 1288 646.3 1285.6 C645.3 1283.2 645.9 1284.7 646.1 1284.6 C646.2 1284.6 645.5 1283.1 647 1285.4Z" stroke-width="1.0"/>
<path d="M644 1285.7 C645.2 1288 647.3 1292.5 648 1294.8 C648.8 1297 647.8 1295.6 647.2 1295.5 C646.7 1295.4 646.6 1296.7 645.7 1294.4 C644.7 1292.1 643.8 1287.9 643.3 1285.7 C642.7 1283.4 643 1284.8 643.2 1284.8 C643.4 1284.8 642.9 1283.4 644 1285.7Z" stroke-width="1.0"/>
<path d="M640.9 1285.2 C641.6 1287.5 643 1291.7 643.4 1293.8 C643.7 1295.9 643 1294.5 642.4 1294.2 C641.8 1294 641.5 1295.1 640.9 1292.9 C640.4 1290.7 640.2 1287 640.1 1285 C639.9 1282.9 640 1284.2 640.2 1284.2 C640.4 1284.3 640.2 1283 640.9 1285.2Z" stroke-width="1.0"/>
<path d="M637.6 1283.9 C638 1286 638.6 1289.9 638.6 1291.8 C638.6 1293.6 638 1292.2 637.5 1291.8 C636.9 1291.5 636.3 1292.2 636.2 1290.3 C636 1288.3 636.6 1285.2 636.8 1283.5 C637 1281.8 636.9 1282.8 637.1 1282.9 C637.3 1283 637.3 1281.9 637.6 1283.9Z" stroke-width="1.0"/>
<path d="M634.4 1281.9 C634.4 1283.7 634.3 1287.1 633.9 1288.6 C633.5 1290.1 633.2 1288.8 632.7 1288.3 C632.1 1287.9 631.4 1288.3 631.6 1286.6 C631.8 1285 633 1282.6 633.6 1281.3 C634.2 1280 633.8 1280.8 634 1280.9 C634.2 1281.1 634.5 1280.1 634.4 1281.9Z" stroke-width="1.0"/>
<path d="M631.4 1279.3 C631 1280.7 630.2 1283.5 629.4 1284.5 C628.7 1285.6 628.7 1284.4 628.2 1283.9 C627.7 1283.3 626.7 1283.4 627.3 1282.1 C627.9 1280.9 629.7 1279.4 630.6 1278.5 C631.5 1277.6 631 1278.1 631.1 1278.3 C631.3 1278.5 631.8 1277.8 631.4 1279.3Z" stroke-width="1.0"/>
<path d="M628.6 1276 C627.8 1277.1 626.4 1279 625.4 1279.7 C624.3 1280.3 624.5 1279.3 624.1 1278.7 C623.7 1278 622.6 1277.8 623.5 1276.9 C624.4 1276.1 626.7 1275.5 627.9 1275.1 C629.1 1274.7 628.4 1275 628.5 1275.2 C628.7 1275.4 629.3 1275 628.6 1276Z" stroke-width="1.0"/>
<path d="M626.1 1272.4 C625.1 1273 623.2 1274.1 621.9 1274.2 C620.6 1274.3 621 1273.6 620.7 1272.9 C620.3 1272.2 619.2 1271.6 620.4 1271.3 C621.5 1270.9 624.2 1271.3 625.6 1271.4 C627 1271.5 626.1 1271.4 626.3 1271.7 C626.4 1271.9 627.2 1271.8 626.1 1272.4Z" stroke-width="1.0"/>
<path d="M624.2 1268.5 C622.9 1268.6 620.5 1268.7 619.1 1268.3 C617.7 1268 618.3 1267.5 618 1266.8 C617.8 1266.1 616.6 1265.1 618 1265.3 C619.3 1265.4 622.3 1266.8 623.8 1267.4 C625.3 1268 624.4 1267.7 624.5 1267.9 C624.6 1268.1 625.5 1268.4 624.2 1268.5Z" stroke-width="1.0"/>
<path d="M622.8 1264.4 C621.4 1264 618.7 1263.2 617.1 1262.3 C615.6 1261.4 616.4 1261.3 616.2 1260.6 C616 1259.9 615 1258.6 616.4 1259.3 C617.9 1259.9 621 1262.2 622.5 1263.3 C624.1 1264.5 623.1 1263.8 623.2 1264 C623.3 1264.3 624.2 1264.8 622.8 1264.4Z" stroke-width="1.0"/>
<path d="M622 1260.3 C620.5 1259.5 617.6 1257.7 616 1256.4 C614.5 1255 615.4 1255.2 615.3 1254.5 C615.3 1253.8 614.3 1252.3 615.8 1253.4 C617.4 1254.6 620.3 1257.8 621.9 1259.3 C623.5 1260.9 622.5 1259.9 622.5 1260.2 C622.6 1260.4 623.5 1261.2 622 1260.3Z" stroke-width="1.0"/>
<path d="M621.8 1256.5 C620.3 1255.1 617.4 1252.5 615.9 1250.7 C614.3 1248.9 615.3 1249.4 615.4 1248.8 C615.4 1248.2 614.6 1246.5 616.1 1248 C617.6 1249.6 620.4 1253.6 621.9 1255.5 C623.4 1257.5 622.5 1256.3 622.5 1256.5 C622.4 1256.7 623.4 1257.8 621.8 1256.5Z" stroke-width="1.0"/>
<path d="M622.3 1252.9 C620.8 1251.2 618 1247.7 616.6 1245.6 C615.2 1243.4 616.2 1244.2 616.4 1243.7 C616.6 1243.1 615.9 1241.3 617.4 1243.2 C618.8 1245.2 621.2 1249.8 622.5 1252.1 C623.8 1254.4 623 1253 623 1253.2 C622.9 1253.4 623.8 1254.7 622.3 1252.9Z" stroke-width="1.0"/>
<path d="M623.4 1249.8 C622 1247.7 619.5 1243.6 618.3 1241.1 C617.1 1238.7 618.1 1239.8 618.4 1239.3 C618.6 1238.9 618.2 1236.9 619.5 1239.2 C620.7 1241.5 622.7 1246.6 623.8 1249.2 C624.9 1251.7 624.2 1250.1 624.1 1250.3 C624 1250.5 624.8 1252 623.4 1249.8Z" stroke-width="1.0"/>
<path d="M625.1 1247.3 C623.9 1244.9 621.7 1240.3 620.8 1237.6 C619.9 1234.9 620.8 1236.2 621.1 1235.9 C621.5 1235.6 621.3 1233.6 622.4 1236.2 C623.4 1238.7 624.8 1244.1 625.6 1246.8 C626.4 1249.6 625.9 1247.9 625.8 1248 C625.6 1248.1 626.2 1249.8 625.1 1247.3Z" stroke-width="1.0"/>
<path d="M627.3 1245.5 C626.4 1242.9 624.7 1237.9 624 1235.1 C623.4 1232.3 624.2 1233.8 624.7 1233.6 C625.1 1233.4 625.2 1231.5 626 1234.2 C626.7 1236.9 627.4 1242.3 627.9 1245.2 C628.3 1248 628.1 1246.3 627.9 1246.3 C627.8 1246.4 628.2 1248.1 627.3 1245.5Z" stroke-width="1.0"/>
<path d="M629.9 1244.4 C629.3 1241.7 628.2 1236.5 627.9 1233.6 C627.7 1230.8 628.3 1232.5 628.8 1232.4 C629.3 1232.4 629.7 1230.6 630.1 1233.4 C630.5 1236.1 630.5 1241.5 630.6 1244.3 C630.7 1247.1 630.6 1245.4 630.4 1245.4 C630.3 1245.4 630.5 1247.2 629.9 1244.4Z" stroke-width="1.0"/>
<path d="M632.8 1244.1 C632.6 1241.4 632.1 1236.1 632.3 1233.4 C632.4 1230.7 632.8 1232.4 633.4 1232.5 C633.9 1232.6 634.5 1231 634.6 1233.7 C634.6 1236.5 633.9 1241.5 633.6 1244.2 C633.3 1246.9 633.5 1245.2 633.3 1245.2 C633.1 1245.2 633 1246.9 632.8 1244.1Z" stroke-width="1.0"/>
<path d="M636 1244.7 C636.1 1242 636.4 1236.9 636.9 1234.3 C637.4 1231.8 637.6 1233.5 638.2 1233.8 C638.8 1234 639.7 1232.7 639.3 1235.3 C639 1237.9 637.5 1242.4 636.8 1244.9 C636.1 1247.4 636.5 1245.9 636.3 1245.8 C636.1 1245.7 635.8 1247.3 636 1244.7Z" stroke-width="1.0"/>
<path d="M639.2 1245.9 C639.7 1243.4 640.8 1238.7 641.7 1236.4 C642.6 1234.1 642.6 1235.8 643.1 1236.2 C643.7 1236.5 644.8 1235.5 644.1 1237.9 C643.4 1240.3 641.1 1244.2 640 1246.4 C639 1248.5 639.6 1247.2 639.4 1247.1 C639.2 1247 638.7 1248.4 639.2 1245.9Z" stroke-width="1.0"/>
<path d="M642.4 1248 C643.3 1245.7 645.1 1241.5 646.4 1239.5 C647.7 1237.6 647.4 1239.2 647.9 1239.7 C648.5 1240.1 649.8 1239.4 648.7 1241.5 C647.6 1243.6 644.7 1246.8 643.2 1248.6 C641.8 1250.3 642.7 1249.3 642.5 1249.1 C642.3 1249 641.5 1250.2 642.4 1248Z" stroke-width="1.0"/>
<path d="M645.5 1250.6 C646.8 1248.7 649.2 1245.1 650.8 1243.6 C652.5 1242.1 651.9 1243.6 652.4 1244.1 C652.9 1244.7 654.4 1244.3 653 1246 C651.5 1247.7 648 1250.1 646.2 1251.4 C644.5 1252.7 645.6 1251.9 645.4 1251.7 C645.2 1251.5 644.2 1252.5 645.5 1250.6Z" stroke-width="1.0"/>
<path d="M648.3 1253.8 C649.9 1252.4 653 1249.6 654.9 1248.5 C656.8 1247.4 656.1 1248.7 656.5 1249.3 C656.9 1250 658.5 1250 656.8 1251.2 C655 1252.5 651 1253.9 649 1254.7 C646.9 1255.6 648.2 1255.1 648 1254.8 C647.9 1254.6 646.7 1255.3 648.3 1253.8Z" stroke-width="1.0"/>
<path d="M650.7 1257.5 C652.6 1256.5 656.2 1254.5 658.4 1254 C660.5 1253.4 659.6 1254.4 659.9 1255.1 C660.3 1255.8 661.9 1256.1 659.9 1256.9 C657.9 1257.7 653.5 1258.1 651.3 1258.5 C649 1258.8 650.4 1258.6 650.3 1258.4 C650.1 1258.1 648.8 1258.5 650.7 1257.5Z" stroke-width="1.0"/>
<path d="M652.7 1261.4 C654.8 1260.9 658.9 1259.9 661.2 1259.8 C663.5 1259.8 662.3 1260.5 662.6 1261.2 C662.8 1261.9 664.5 1262.6 662.3 1262.9 C660.1 1263.2 655.5 1262.6 653.1 1262.4 C650.7 1262.3 652.2 1262.4 652.1 1262.1 C652 1261.9 650.5 1262 652.7 1261.4Z" stroke-width="1.0"/>
<path d="M654.1 1265.5 C656.3 1265.4 660.7 1265.4 663.2 1265.8 C665.6 1266.3 664.2 1266.7 664.4 1267.4 C664.6 1268.1 666.2 1269.1 663.8 1268.9 C661.5 1268.7 656.8 1267.2 654.3 1266.5 C651.9 1265.9 653.4 1266.3 653.3 1266 C653.3 1265.8 651.8 1265.5 654.1 1265.5Z" stroke-width="1.0"/>
<path d="M654.9 1269.5 C657.2 1270 661.8 1270.9 664.2 1271.8 C666.7 1272.7 665.2 1272.8 665.3 1273.5 C665.3 1274.2 666.9 1275.4 664.4 1274.7 C662 1274 657.4 1271.7 655 1270.5 C652.5 1269.4 654 1270.1 654 1269.9 C654 1269.6 652.5 1269.1 654.9 1269.5Z" stroke-width="1.0"/>
<path d="M655 1273.4 C657.4 1274.3 662 1276.1 664.4 1277.4 C666.8 1278.8 665.3 1278.6 665.2 1279.2 C665.2 1279.8 666.5 1281.3 664.1 1280.1 C661.7 1279 657.3 1275.9 655 1274.3 C652.6 1272.8 654.1 1273.7 654.1 1273.5 C654.1 1273.3 652.6 1272.5 655 1273.4Z" stroke-width="1.0"/>
<path d="M654.5 1276.9 C656.9 1278.3 661.4 1280.9 663.6 1282.6 C665.9 1284.3 664.4 1283.8 664.2 1284.3 C664 1284.9 665.2 1286.5 662.9 1284.9 C660.6 1283.4 656.5 1279.7 654.3 1277.8 C652.1 1275.9 653.5 1277 653.5 1276.9 C653.6 1276.7 652.2 1275.6 654.5 1276.9Z" stroke-width="1.0"/>
<path d="M653.5 1280 C655.7 1281.7 659.9 1285 662 1287 C664 1289 662.5 1288.2 662.2 1288.7 C662 1289.1 662.9 1290.8 660.8 1288.9 C658.7 1287.1 655 1282.9 653.1 1280.7 C651.1 1278.6 652.3 1279.9 652.4 1279.7 C652.5 1279.6 651.2 1278.3 653.5 1280Z" stroke-width="1.0"/>
<path d="M651.8 1282.5 C653.8 1284.5 657.7 1288.3 659.5 1290.6 C661.3 1292.8 659.8 1291.8 659.5 1292.1 C659.1 1292.4 659.8 1294.1 657.9 1292 C656 1289.9 652.9 1285.4 651.3 1283.1 C649.6 1280.7 650.6 1282.2 650.8 1282 C650.9 1281.9 649.8 1280.5 651.8 1282.5Z" stroke-width="1.0"/>
<ellipse cx="191.4" cy="1197.2" rx="6" ry="4.8" stroke-width="1.1" fill="#fff" transform="rotate(60 191.4 1197.2)"/>
<ellipse cx="189.6" cy="1198" rx="5.2" ry="4.4" stroke-width="1.4" fill="#333" transform="rotate(60 189.6 1198)"/>
<ellipse cx="189.4" cy="1198.1" rx="2.6" ry="2" stroke-width="1.2" fill="#ddd" transform="rotate(60 189.4 1198.1)"/>
<ellipse cx="190.6" cy="1201.7" rx="0.9" ry="0.7" stroke-width="0" fill="#eee" stroke="none"/>
<ellipse cx="187.3" cy="1200.3" rx="0.9" ry="0.7" stroke-width="0" fill="#eee" stroke="none"/>
<ellipse cx="186.3" cy="1196.6" rx="0.9" ry="0.7" stroke-width="0" fill="#eee" stroke="none"/>
<ellipse cx="188.6" cy="1194.3" rx="0.9" ry="0.7" stroke-width="0" fill="#eee" stroke="none"/>
<ellipse cx="191.9" cy="1195.7" rx="0.9" ry="0.7" stroke-width="0" fill="#eee" stroke="none"/>
<ellipse cx="192.9" cy="1199.4" rx="0.9" ry="0.7" stroke-width="0" fill="#eee" stroke="none"/>
<ellipse cx="689" cy="1232.6" rx="6" ry="4.8" stroke-width="1.1" fill="#fff" transform="rotate(60 689 1232.6)"/>
<ellipse cx="687.2" cy="1233.4" rx="5.2" ry="4.4" stroke-width="1.4" fill="#333" transform="rotate(60 687.2 1233.4)"/>
<ellipse cx="687" cy="1233.5" rx="2.6" ry="2" stroke-width="1.2" fill="#ddd" transform="rotate(60 687 1233.5)"/>
<ellipse cx="688.2" cy="1237.1" rx="0.9" ry="0.7" stroke-width="0" fill="#eee" stroke="none"/>
<ellipse cx="684.9" cy="1235.7" rx="0.9" ry="0.7" stroke-width="0" fill="#eee" stroke="none"/>
<ellipse cx="683.9" cy="1232" rx="0.9" ry="0.7" stroke-width="0" fill="#eee" stroke="none"/>
<ellipse cx="686.2" cy="1229.7" rx="0.9" ry="0.7" stroke-width="0" fill="#eee" stroke="none"/>
<ellipse cx="689.5" cy="1231.1" rx="0.9" ry="0.7" stroke-width="0" fill="#eee" stroke="none"/>
<ellipse cx="690.5" cy="1234.8" rx="0.9" ry="0.7" stroke-width="0" fill="#eee" stroke="none"/>
<path d="M510.4 1051.8 L336.4 1151.1" stroke="#000" stroke-width="7.7" stroke-linecap="butt" fill="none"/>
<path d="M510.4 1051.8 L336.4 1151.1" stroke="#fff" stroke-width="5.3" stroke-linecap="butt" fill="none"/>
<path d="M342.3 1145.7 L345.9 1150.5"/>
<path d="M508.6 1001.3 C511.8 1002.9 513.3 1002.2 518.2 1006.2 C523.1 1010.2 520.9 1008 523.4 1013.2 C525.9 1018.4 524.9 1007.4 525.6 1021.9 C526.3 1036.4 526.2 1044.1 525.6 1056.6 C525 1069.1 525.4 1058.1 523.8 1059.4 C522.2 1060.7 521.8 1060.1 520.8 1060.5" fill="#fff"/>
<path d="M498.7 1009.7 C499.2 1003.7 498.7 1006.7 500.4 1004.5 C502.1 1002.3 502.3 1002 505.2 1001.5 C508.1 1001 508 1001.1 511.2 1002.8 C514.4 1004.5 514.5 1004.8 517.3 1008 C520.1 1011.2 520.2 1010.7 521.7 1014.9 C523.2 1019.1 522.7 1016.9 523.1 1023.6 C523.5 1030.3 523.1 1031.3 523.1 1040.1 C523.1 1048.9 523.5 1051.4 523.1 1056.6 C522.7 1061.8 523 1058.6 521.7 1059.6 C520.4 1060.6 520.3 1060.8 518.2 1060.5 C516.1 1060.2 518.1 1061.2 513.9 1058.3 C509.7 1055.4 506.6 1053.6 502.6 1049.7 C498.6 1045.8 500 1049.6 498.9 1043.6 C497.8 1037.6 498.6 1036.1 498.5 1027.1 C498.4 1018.1 498.2 1015.7 498.7 1009.7Z" fill="#fff"/>
<ellipse cx="510.6" cy="1012.3" rx="4.9" ry="4.1" stroke-width="1.5" fill="#fff" transform="rotate(60 510.6 1012.3)"/>
<ellipse cx="509.1" cy="1012.5" rx="2.6" ry="2.2" transform="rotate(60 509.1 1012.5)"/>
<ellipse cx="505.3" cy="1040.7" rx="2.6" ry="1.8" transform="rotate(60 505.3 1040.7)"/>
<ellipse cx="511.4" cy="1051.4" rx="6.6" ry="4.6" stroke-width="1.4" fill="#fff" transform="rotate(60 511.4 1051.4)"/>
<ellipse cx="509.9" cy="1051.8" rx="5" ry="3.6" stroke-width="1.4" fill="#fff" transform="rotate(60 509.9 1051.8)"/>
<path d="M509.9 1052.1 L490.4 1062.2" stroke="#000" stroke-width="7.7" stroke-linecap="butt" fill="none"/>
<path d="M509.9 1052.1 L490.4 1062.2" stroke="#fff" stroke-width="5.3" stroke-linecap="butt" fill="none"/>
<path d="M519.5 1006.9 L534 999" stroke="#000" stroke-width="6.8" stroke-linecap="butt" fill="none"/>
<path d="M519.5 1006.9 L534 999" stroke="#fff" stroke-width="4.4" stroke-linecap="butt" fill="none"/>
<path d="M534 999 L537.5 997.4" stroke="#000" stroke-width="5.4" stroke-linecap="butt" fill="none"/>
<path d="M534 999 L537.5 997.4" stroke="#fff" stroke-width="3" stroke-linecap="butt" fill="none"/>
<ellipse cx="537.5" cy="997.4" rx="2.6" ry="1.8" fill="#fff" transform="rotate(60 537.5 997.4)"/>
<ellipse cx="547" cy="989.9" rx="7.2" ry="4.8" fill="#fff" transform="rotate(62 547 989.9)"/>
<ellipse cx="545.1" cy="991.1" rx="7.4" ry="4.8" stroke-width="1.3" fill="#fff" transform="rotate(62 545.1 991.1)"/>
<ellipse cx="544.7" cy="991.3" rx="2.8" ry="1.9" transform="rotate(62 544.7 991.3)"/>
<path d="M282.3 1082.5 L291.5 1088.6 L300.6 1092.2 L303.6 1096.5 L312.1 1113.5 L308.5 1123.2 L303.6 1125.6 L290.2 1098.3 L283 1094.6 L279.9 1092.2Z" fill="#fff"/>
<path d="M296.3 1098.6 L300.2 1097.4 L306 1111 L303 1112.5Z"/>
<path d="M285.4 1086.1 L292.7 1091.8 L298.8 1094 L301.8 1097.1"/>
<path d="M291.5 1096.5 L306 1125"/>
<ellipse cx="275.4" cy="1086.1" rx="8.2" ry="5.6" stroke-width="1.3" fill="#fff" transform="rotate(-35 275.4 1086.1)"/>
<ellipse cx="275.9" cy="1087" rx="6.4" ry="4" stroke-width="1.2" transform="rotate(-35 275.9 1087)"/>
<path d="M270.2 1086.1 L273.2 1091.8" stroke-width="1.2"/>
<path d="M271.8 1085.3 L274.8 1091" stroke-width="1.2"/>
<path d="M273.4 1084.4 L276.4 1090.1" stroke-width="1.2"/>
<path d="M274.9 1083.6 L278 1089.3" stroke-width="1.2"/>
<path d="M276.5 1082.7 L279.5 1088.4" stroke-width="1.2"/>
<path d="M278.1 1081.9 L281.1 1087.6" stroke-width="1.2"/>
<path d="M279.7 1081 L282.7 1086.7" stroke-width="1.2"/>
<path d="M323.1 1111 C324.7 1112 326 1111.4 329.1 1114.7 C332.2 1118 332.7 1118.3 334.6 1123.2 C336.5 1128.1 335.8 1121.9 336.2 1132.9 C336.6 1143.9 336.8 1154.9 336.2 1164.5 C335.6 1174.1 335.7 1167.3 334 1168.8 C332.3 1170.3 330.8 1169.9 329.7 1170.3" fill="#fff"/>
<path d="M308.5 1125.6 C309 1119.8 308.4 1120.6 310.3 1117.1 C312.2 1113.6 312.9 1113.8 315.8 1112.3 C318.7 1110.8 318 1110.6 321.2 1111.6 C324.4 1112.6 324.8 1112.8 327.9 1115.9 C331 1119 331 1118.7 332.8 1123.2 C334.6 1127.7 334.1 1126.1 334.6 1132.9 C335.1 1139.7 334.7 1140.6 334.8 1148.7 C334.9 1156.8 335.5 1158.1 335 1163.3 C334.5 1168.5 334.7 1166.4 332.8 1168.2 C330.9 1170 330.7 1169.8 327.9 1170 C325.1 1170.2 326.3 1171.2 322.4 1168.8 C318.5 1166.4 316.8 1165 313.3 1160.9 C309.8 1156.8 310.4 1159.4 309.1 1153.6 C307.8 1147.8 308.7 1146.5 308.5 1139 C308.3 1131.5 308 1131.4 308.5 1125.6Z" fill="#fff"/>
<path d="M319.4 1165.7 L321.2 1169.4 L323.7 1170.3 L324.9 1168.8"/>
<ellipse cx="320.6" cy="1160.3" rx="3.6" ry="3" stroke-width="1.3" fill="#fff" transform="rotate(50 320.6 1160.3)"/>
<ellipse cx="320.6" cy="1160.3" rx="1.6" ry="1.3" transform="rotate(50 320.6 1160.3)"/>
<ellipse cx="315.8" cy="1156.6" rx="0.9" ry="0.9" fill="#000"/>
<ellipse cx="321.6" cy="1121.4" rx="6.6" ry="4.8" stroke-width="1.6" fill="#fff" transform="rotate(60 321.6 1121.4)"/>
<ellipse cx="320" cy="1122.2" rx="5" ry="3.6" stroke-width="1.4" fill="#fff" transform="rotate(60 320 1122.2)"/>
<path d="M319.4 1123.2 L303 1131.9" stroke="#000" stroke-width="7.4" stroke-linecap="butt" fill="none"/>
<path d="M319.4 1123.2 L303 1131.9" stroke="#fff" stroke-width="5" stroke-linecap="butt" fill="none"/>
<ellipse cx="303" cy="1131.9" rx="3.6" ry="2.6" fill="#fff" transform="rotate(60 303 1131.9)"/>
<path d="M302.6 1132.4 L297.8 1134.7" stroke="#000" stroke-width="5.6" stroke-linecap="butt" fill="none"/>
<path d="M302.6 1132.4 L297.8 1134.7" stroke="#fff" stroke-width="3.2" stroke-linecap="butt" fill="none"/>
<ellipse cx="297.8" cy="1134.7" rx="2.8" ry="2" fill="#fff" transform="rotate(60 297.8 1134.7)"/>
</g>
<g id="p30_belt">
<path d="M627.6 292.9 L631 294.2 L634.1 296.1 L636.7 298.5 L638.8 301.3 L640.2 304.4 L641 307.6 L641.1 310.9 L640.4 314 L639.1 317 L637.1 319.7 L634.6 321.9 L631.6 323.7 L628.3 324.8 L624.8 325.3 L621.1 325.2 L617.6 324.5 L444.3 273 L440.9 271.7 L437.8 269.8 L435.2 267.4 L433.1 264.6 L431.7 261.5 L430.9 258.3 L430.8 255 L431.5 251.9 L432.8 248.9 L434.8 246.2 L437.3 244 L440.3 242.2 L443.6 241.1 L447.1 240.6 L450.8 240.7 L454.3 241.4Z" stroke-width="1.2" fill="#fff"/>
<path d="M626.8 295.5 L629.7 296.7 L632.3 298.3 L634.6 300.3 L636.4 302.6 L637.7 305.2 L638.4 307.9 L638.5 310.6 L637.9 313.3 L636.8 315.8 L635.1 318 L633 319.9 L630.5 321.3 L627.6 322.2 L624.6 322.7 L621.5 322.5 L618.4 321.9 L445.1 270.4 L442.2 269.2 L439.6 267.6 L437.3 265.6 L435.5 263.3 L434.2 260.7 L433.5 258 L433.4 255.3 L434 252.6 L435.1 250.1 L436.8 247.9 L438.9 246 L441.4 244.6 L444.3 243.7 L447.3 243.2 L450.4 243.4 L453.5 244Z" stroke-width="1.5"/>
<path d="M625.9 298.3 L628.3 299.2 L630.4 300.5 L632.3 302.1 L633.7 304 L634.8 306 L635.4 308.2 L635.5 310.3 L635.1 312.4 L634.2 314.4 L632.8 316.1 L631.1 317.6 L629.1 318.7 L626.8 319.4 L624.3 319.7 L621.8 319.6 L619.3 319.1 L446 267.6 L443.6 266.7 L441.5 265.4 L439.6 263.8 L438.2 261.9 L437.1 259.9 L436.5 257.7 L436.4 255.6 L436.8 253.5 L437.7 251.5 L439.1 249.8 L440.8 248.3 L442.8 247.2 L445.1 246.5 L447.6 246.2 L450.1 246.3 L452.6 246.8Z" stroke-width="1.0"/>
<path d="M439.4 262.4 L437.7 260.7 L436.4 258.8 L435.6 256.9 L435.4 255 L435.7 253.1 L436.5 251.4 L437.8 250 L439.6 248.8 L441.7 248 L444.1 247.4 L446.7 247.3 L449.5 247.6 L452.2 248.2" stroke-width="0.9"/>
</g>
<g id="p31_ring27">
<path d="M409.2 219.3 L427.3 232.5 L428.1 241.5 L405 269.1 L393.5 265.5 L368.8 258 L398.4 242.4Z" fill="#fff"/>
<path d="M404.2 230.8 C408.3 232 410.5 232.2 416.6 234.4 C422.7 236.6 423 232.5 422.4 237.4 C421.8 242.3 421.2 241.4 414.9 249 C408.6 256.6 410.5 254.7 403.4 260.2 C396.3 265.7 396.8 263.7 393.5 265.5"/>
<path d="M422.4 237.4 L427.8 240.4"/>
<path d="M414.9 234.9 C412.7 239 414.9 239.9 408.3 247.3 C401.7 254.7 401.7 255.3 395.1 257.2 C388.5 259.1 390.7 254.5 388.5 253.1"/>
<path d="M388.5 253.1 L393.5 265.5"/>
<path d="M403.4 260.2 L405.9 268.8"/>
<ellipse cx="336" cy="207.3" rx="75" ry="54" fill="#fff" transform="rotate(8 336 207.3)"/>
<ellipse cx="336.6" cy="209.4" rx="54" ry="39" stroke-width="1.6" transform="rotate(8 336.6 209.4)"/>
<path d="M286.2 200.6 L287.7 196.1 L290.1 192 L293.1 188.1 L296.8 184.5 L301.2 181.4 L306.1 178.7 L311.4 176.5 L317.2 174.9 L323.2 173.8 L329.5 173.2 L335.8 173.3 L342.2 173.9 L348.5 175 L354.7 176.8 L360.5 179 L366 181.7 L371.1 184.9 L375.6 188.5 L379.6 192.4 L382.9 196.6 L385.5 201.1 L387.4 205.6 L388.4 210.3 L388.8 215" stroke-width="1.0"/>
<path d="M292.1 197.8 C296.2 195.6 292 194.5 304.4 191.2 C316.8 187.9 313.2 188.7 329.2 187.9 C345.2 187.1 338 186.3 352.3 188.8 C366.6 191.3 362.1 190.2 372 195.4 C381.9 200.6 378.6 201.4 381.9 204.4"/>
<path d="M353.9 155.3 L372 160.2 L365.5 173.1 L347.3 167.8Z" fill="#fff"/>
<ellipse cx="358" cy="164.8" rx="2.6" ry="1.8" stroke-width="1.4" transform="rotate(10 358 164.8)"/>
<path d="M262.5 198.2 L283 197 L284.1 211 L264.2 211.4Z" fill="#fff"/>
<ellipse cx="275.6" cy="203.9" rx="2.6" ry="1.9" stroke-width="1.4" transform="rotate(10 275.6 203.9)"/>
<path d="M334.9 250.9 L353.9 247.6 L355.6 258.9 L336.1 261.8Z" fill="#fff"/>
<ellipse cx="344.8" cy="252.6" rx="2.6" ry="1.9" stroke-width="1.6" transform="rotate(10 344.8 252.6)"/>
<path d="M266.5 227.5 C269.2 225.9 269.5 223.4 274.7 222.6 C279.9 221.8 280.3 222.3 282.2 225 C284.1 227.7 283.5 227.5 280.5 230.8 C277.5 234.1 275.6 233.5 273.1 234.9"/>
<ellipse cx="274.7" cy="228.5" rx="3.6" ry="3.2" stroke-width="1.3"/>
<ellipse cx="274.7" cy="228.5" rx="1.6" ry="1.4"/>
<path d="M407.5 196.2 C404.8 196.7 402.9 195.6 399.3 197.8 C395.7 200 396.3 199.8 396.8 202.8 C397.3 205.8 396.8 205.8 400.9 206.9 C405 208 406.4 206.4 409.2 206.1"/>
<ellipse cx="402.6" cy="202" rx="3.6" ry="3.2" stroke-width="1.3"/>
<ellipse cx="402.6" cy="202" rx="1.6" ry="1.4"/>
<path d="M307.7 179.7 C309.4 183.5 306.6 184.1 312.7 191.2 C318.8 198.3 312.7 193.9 325.9 201.1 C339.1 208.3 343.5 208.8 352.3 212.7" stroke-width="1.3"/>
<path d="M307.7 185.5 C310.5 189.6 306.6 190.4 316 197.8 C325.4 205.2 323.7 201.6 335.8 207.7 C347.9 213.8 346.8 213.2 352.3 216"/>
<path d="M330.8 174.7 L332.5 202.8" stroke-width="1.6"/>
<path d="M372 185.5 L367.9 204.4 L365.5 204.4 L370.4 187.9Z"/>
<path d="M381.9 197.8 L375.3 207.7 L387.7 211.8"/>
<path d="M352.3 202.8 L358.9 201.1 L359.7 216 L365.5 219.3 L365.5 225.9 L353.1 227.5 L351.4 217.6Z" fill="#fff"/>
<path d="M355.6 202 L355.6 216 L359.7 216"/>
<path d="M365.5 204.4 L367.9 205.3 L367.9 224.2 L365.5 225.9"/>
<path d="M367.9 206.9 L386.9 212.7"/>
<path d="M284.6 201.1 L297 205.3 L297.8 217.6 L292.1 219.3 L285.5 215.1Z"/>
<path d="M288.8 206.9 L294.5 206.9 L294.5 216 L291.2 216"/>
<path d="M293.2 192.1 L297.8 204.4 L310.2 220.9 L306.1 212.7 L297 197.8Z"/>
<path d="M287.1 219.3 L294.5 222.6 L297 235.8"/>
<path d="M319.3 220.1 C323.7 221.5 321.5 220.1 332.5 224.2 C343.5 228.3 341.9 228.1 352.3 232.5 C362.7 236.9 362.7 233.3 363.8 237.4 C364.9 241.5 358.3 242.3 355.6 244.8"/>
<path d="M319.3 220.1 L320.9 230 L312.7 235.8 L322.6 245.7"/>
<path d="M299.5 237.4 L322.6 246.5"/>
<path d="M325 243.2 L327.5 238.2 L340.7 239.1 L342.4 244.8 L325 247.3Z" fill="#fff"/>
<path d="M330.8 238.2 L330.8 232.5 L332.5 231.6 L332.8 235.8 L337.4 234.9 L339.9 239.1"/>
<path d="M345.7 245.7 L349 243.2 L350.6 247.3"/>
</g>
<g id="p32_trans31">
<path d="M661.9 385.4 L532.5 457.5" stroke="#000" stroke-width="8.2" stroke-linecap="butt" fill="none"/>
<path d="M661.9 385.4 L532.5 457.5" stroke="#fff" stroke-width="5.8" stroke-linecap="butt" fill="none"/>
<ellipse cx="531.5" cy="458" rx="3.6" ry="2.4" stroke-width="1.4" fill="#fff" transform="rotate(62 531.5 458)"/>
<ellipse cx="531.8" cy="457.8" rx="1.8" ry="1.2" stroke-width="1.2" fill="#000" transform="rotate(62 531.8 457.8)"/>
<path d="M537.5 453.2 L540 458.2"/>
<path d="M541 451.2 L543.5 456.2"/>
<path d="M709.9 358.1 L730 348.6" stroke="#000" stroke-width="9.6" stroke-linecap="butt" fill="none"/>
<path d="M709.9 358.1 L730 348.6" stroke="#fff" stroke-width="7.2" stroke-linecap="butt" fill="none"/>
<path d="M728.2 344.3 C729.6 344.7 730.6 343.9 732.4 345.6 C734.2 347.3 733.8 347 733.6 349.4 C733.4 351.8 732.4 351.6 731.8 352.7" fill="#fff"/>
<path d="M635.2 345.3 L643.7 342.3 L650.4 339.8 L656.5 341.6 L660.1 340.4 L668.6 341 L673.5 344.7 L680.8 347.1 L688.1 345.3 L694.1 347.1 L705.1 353.2 L709.9 358.1 L716 361.7 L717.2 367.8 L716.6 375.1 L712.4 382.4 L705.1 386 L695.3 393.3 L683.2 399.4 L673.5 400.8 L668.6 396.9 L662.5 389.7 L649.2 372.6 L647.3 367.8 L640.1 367.8 L635.2 361.7Z" stroke-width="1.3" fill="#fff"/>
<path d="M640.7 362.9 C643.9 362.6 643.9 363.4 650.4 361.9 C656.9 360.4 654.2 360.8 660.1 358.3 C666 355.8 663.5 358.3 668 354.4 C672.5 350.5 671.7 349.1 673.5 346.5" stroke-width="1.4"/>
<path d="M640.1 367.8 C645.6 366.8 647.8 366.7 656.5 364.7 C665.2 362.7 661.8 364.4 666.2 361.7 C670.6 359 668.6 358.3 669.8 356.6" stroke-width="1.2"/>
<path d="M635.8 347.1 L638.2 359.9 L640.7 362.9"/>
<path d="M638.2 347.1 L643.7 345.3 L646.1 358.1 L640.7 359.9Z"/>
<path d="M646.1 347.1 L649.8 358.1 L652.8 356.2 L650.4 347.1"/>
<path d="M652.8 353.2 L658.9 345.9 L661.9 347.7 L656.5 354.4"/>
<ellipse cx="650" cy="342.9" rx="3.4" ry="2.6" stroke-width="1.4" fill="#fff"/>
<ellipse cx="650" cy="342.9" rx="1.6" ry="1.2"/>
<ellipse cx="663.4" cy="343.5" rx="3.6" ry="2.8" stroke-width="1.6" fill="#fff"/>
<ellipse cx="663.4" cy="343.5" rx="1.8" ry="1.3" stroke-width="1.4"/>
<ellipse cx="641.3" cy="348.9" rx="1.6" ry="2"/>
<path d="M677.1 359.3 C675.3 359.9 674.5 361.7 673.5 367.8 C672.5 373.9 672.1 372.6 674.1 377.5 C676.1 382.4 677.4 381.8 679.5 382.6 C681.6 383.4 679.2 382.4 680.4 379.9 C681.6 377.4 683.7 379.7 683.2 375.1 C682.7 370.5 680.9 371.3 678.9 366 C676.9 360.7 678.9 358.7 677.1 359.3Z" stroke-width="1.2"/>
<path d="M680.8 365.3 C682.4 368.6 683.6 368.2 685.6 375.1 C687.6 382 686.4 382.4 686.8 386" stroke-width="1.2"/>
<path d="M675.3 348.3 C675.1 350.3 674.1 350.7 674.7 354.4 C675.3 358.1 676.3 357.7 677.1 359.3"/>
<path d="M694.1 347.1 C697.4 349.9 698.6 349.5 703.9 355.6 C709.2 361.7 707.7 359.2 709.9 365.3 C712.1 371.4 710.3 371 710.5 373.9" stroke-width="1.2"/>
<path d="M709.9 358.1 C711.1 360.5 712.6 360 713.6 365.3 C714.6 370.6 713.2 371 713 373.9" stroke-width="1.2"/>
<path d="M648 370.2 L674.7 387.2 L688.1 386 L692.9 383.6" stroke-width="1.3"/>
<path d="M650.4 375.1 L675.9 392.1 L689.3 389.9" stroke-width="1.2"/>
<path d="M656.5 375.1 L673.5 383.6 L679.5 382.6" stroke-width="1.0"/>
<path d="M663.8 390.9 L673.5 398.2 L684.4 396.9 L712.4 382.4" stroke-width="1.2"/>
<path d="M675.9 394.8 L685.6 393.3 L692.9 390.9" stroke-width="1.0"/>
<ellipse cx="677.1" cy="392.7" rx="1.8" ry="1.3"/>
<path d="M689.9 380.5 L690.2 390.9 L694.7 393.3 L695.6 382.4 L692.9 378.7Z" stroke-width="1.3" fill="#fff"/>
<path d="M692.9 382.4 L693.2 392.1"/>
<path d="M704.5 372.6 L705.1 383.6 L709.9 386 L710.5 373.9 L707.5 370.8Z" stroke-width="1.3" fill="#fff"/>
<path d="M707.7 374.5 L708.1 384.8"/>
<path d="M696 386 L704.5 381.1"/>
<path d="M696 389 L704.7 383.8"/>
<path d="M710.5 377.5 L716 373.9"/>
<path d="M686.2 350.8 L688.1 359.9 L690.5 359.3 L689.9 354.4 L694.1 355.6 L696 350.8" stroke-width="1.2"/>
<ellipse cx="690.7" cy="349.5" rx="3.2" ry="2.4" stroke-width="1.4" fill="#fff"/>
<ellipse cx="690.7" cy="349.5" rx="1.4" ry="1"/>
<path d="M675.3 347.1 L674.7 341.6 L668.6 338"/>
<path d="M673.5 343.5 C675.5 344.4 674.6 345.8 679.5 346.1 C684.4 346.4 684.2 346.1 688.1 344.4 C692 342.7 690.1 342.1 691.1 341" fill="#fff"/>
<ellipse cx="679.5" cy="332" rx="20" ry="11.9" stroke-width="1.3" fill="#fff" transform="rotate(3 679.5 332)"/>
<ellipse cx="679.5" cy="328.5" rx="17.5" ry="10" stroke-width="1.2" fill="#fff" transform="rotate(3 679.5 328.5)"/>
<ellipse cx="679.8" cy="326.1" rx="17" ry="9.6" stroke-width="1.0" fill="#fff" transform="rotate(3 679.8 326.1)"/>
<ellipse cx="679.5" cy="323.1" rx="20" ry="11.9" stroke-width="1.3" fill="#fff" transform="rotate(3 679.5 323.1)"/>
<ellipse cx="679" cy="322.8" rx="9.4" ry="5.6" stroke-width="1.0" transform="rotate(3 679 322.8)"/>
<ellipse cx="672.8" cy="320.5" rx="3" ry="1.3" stroke-width="1.2" transform="rotate(-25 672.8 320.5)"/>
<ellipse cx="684.6" cy="319.9" rx="3" ry="1.3" stroke-width="1.2" transform="rotate(25 684.6 319.9)"/>
<ellipse cx="673.8" cy="326.9" rx="3" ry="1.3" stroke-width="1.2" transform="rotate(25 673.8 326.9)"/>
<ellipse cx="685.6" cy="326.1" rx="3" ry="1.3" stroke-width="1.2" transform="rotate(-25 685.6 326.1)"/>
<ellipse cx="679" cy="323.1" rx="3.4" ry="2.6" stroke-width="1.4" fill="#555"/>
<ellipse cx="679" cy="324.1" rx="2" ry="1.3" stroke-width="1.0" fill="#bbb"/>
<path d="M718.3 329 C718.5 327.2 717.7 326.5 718.9 323.5 C720.1 320.5 719.5 321.2 722 320 C724.5 318.8 723.8 319 726.5 319.8 C729.2 320.6 728.6 320.1 730.1 322.5 C731.6 324.9 730.8 323.8 731.1 327 C731.4 330.2 731 330.3 730.9 332" stroke-width="1.3"/>
<path d="M722.3 328 C722.5 327.1 722 326.6 722.9 325.2 C723.8 323.8 723.7 323.9 725.1 323.8 C726.5 323.7 726.2 323.6 727.1 325 C728 326.4 727.6 325.3 727.7 328 C727.8 330.7 727.6 331.3 727.5 333" stroke-width="1.2"/>
<path d="M718.3 329 L718.1 332.5 L721.1 333.5 L722.3 328" stroke-width="1.2"/>
<path d="M727.5 333 L727.7 336.5 L731.3 335.5 L730.9 332" stroke-width="1.2"/>
<path d="M719.1 331 L717.1 330.2" stroke-width="1.0"/>
<path d="M731.1 334 L732.7 333.5" stroke-width="1.0"/>
<path d="M594.1 394.5 C594.3 392.7 593.5 392 594.7 389 C595.9 386 595.3 386.7 597.8 385.5 C600.3 384.3 599.6 384.5 602.3 385.3 C605 386.1 604.4 385.6 605.9 388 C607.4 390.4 606.6 389.3 606.9 392.5 C607.2 395.7 606.8 395.8 606.7 397.5" stroke-width="1.3"/>
<path d="M598.1 393.5 C598.3 392.6 597.8 392.1 598.7 390.7 C599.6 389.3 599.5 389.4 600.9 389.3 C602.3 389.2 602 389.1 602.9 390.5 C603.8 391.9 603.4 390.8 603.5 393.5 C603.6 396.2 603.4 396.8 603.3 398.5" stroke-width="1.2"/>
<path d="M594.1 394.5 L593.9 398 L596.9 399 L598.1 393.5" stroke-width="1.2"/>
<path d="M603.3 398.5 L603.5 402 L607.1 401 L606.7 397.5" stroke-width="1.2"/>
<path d="M594.9 396.5 L592.9 395.7" stroke-width="1.0"/>
<path d="M606.9 399.5 L608.5 399" stroke-width="1.0"/>
</g>
<g id="p33_gears">
<path d="M832.4 302 L833.7 304.9 L832.5 305.5 L830.8 302.9 L830.1 303 L830.5 305.9 L829.1 305.7 L828.1 302.8 L827.3 302.5 L826.8 304.8 L825.3 303.9 L825.2 301.2 L824.4 300.5 L823.1 302 L821.8 300.4 L822.6 298.4 L822 297.5 L820.1 297.7 L819.2 295.8 L820.8 294.9 L820.5 293.8 L818.2 292.9 L817.9 291 L820.1 291.2 L820.1 290.3 L817.9 288.3 L818.2 286.7 L820.5 288.1 L820.8 287.4 L819.2 284.7 L820.1 283.7 L822.1 286 L822.7 285.7 L821.8 282.8 L823.1 282.6 L824.5 285.3 L825.3 285.4 L825.3 282.8 L826.8 283.4 L827.3 286.2 L828.2 286.7 L829.1 284.8 L830.6 286.1 L830.1 288.5 L830.8 289.3 L832.6 288.4 L833.7 290.2 L832.4 291.7 L832.9 292.7 L835 293 L835.7 295 L833.7 295.4 L833.9 296.4 L836.1 297.9 L836.1 299.6 L833.9 298.9 L833.7 299.7 L835.6 302 L835 303.4 L832.9 301.5Z" stroke-width="1.2" fill="#fff"/>
<path d="M828.1 305.2 L825.5 306.1 L822.6 306 L819.9 305 L817.4 303.2 L815.5 300.7 L814.4 297.7 L814.1 294.7 L814.7 291.8 L816.2 289.3 L818.3 287.6 L820.9 286.7 L823.8 286.8 L826.5 287.8 L829 289.6 L830.9 292.1 L832 295.1 L832.3 298.1 L831.7 301 L830.2 303.5 L828.1 305.2Z" fill="#fff" stroke="none"/>
<path d="M826.1 309.3 L833.7 304.9" stroke-width="1.1"/>
<path d="M824.9 309.9 L832.5 305.5" stroke-width="1.1"/>
<path d="M822.9 310.3 L830.5 305.9" stroke-width="1.1"/>
<path d="M821.5 310.1 L829.1 305.7" stroke-width="1.1"/>
<path d="M819.2 309.2 L826.8 304.8" stroke-width="1.1"/>
<path d="M817.7 308.3 L825.3 303.9" stroke-width="1.1"/>
<path d="M815.5 306.4 L823.1 302" stroke-width="1.1"/>
<path d="M814.2 304.8 L821.8 300.4" stroke-width="1.1"/>
<path d="M812.5 302.1 L820.1 297.7" stroke-width="1.1"/>
<path d="M811.6 300.2 L819.2 295.8" stroke-width="1.1"/>
<path d="M810.6 297.3 L818.2 292.9" stroke-width="1.1"/>
<path d="M810.3 295.4 L817.9 291" stroke-width="1.1"/>
<path d="M810.3 292.7 L817.9 288.3" stroke-width="1.1"/>
<path d="M810.6 291.1 L818.2 286.7" stroke-width="1.1"/>
<path d="M811.6 289.1 L819.2 284.7" stroke-width="1.1"/>
<path d="M812.5 288.1 L820.1 283.7" stroke-width="1.1"/>
<path d="M814.2 287.2 L821.8 282.8" stroke-width="1.1"/>
<path d="M815.5 287 L823.1 282.6" stroke-width="1.1"/>
<path d="M817.7 287.2 L825.3 282.8" stroke-width="1.1"/>
<path d="M819.2 287.8 L826.8 283.4" stroke-width="1.1"/>
<path d="M821.5 289.2 L829.1 284.8" stroke-width="1.1"/>
<path d="M823 290.5 L830.6 286.1" stroke-width="1.1"/>
<path d="M825 292.8 L832.6 288.4" stroke-width="1.1"/>
<path d="M826.1 294.6 L833.7 290.2" stroke-width="1.1"/>
<path d="M827.4 297.4 L835 293" stroke-width="1.1"/>
<path d="M828.1 299.4 L835.7 295" stroke-width="1.1"/>
<path d="M828.5 302.3 L836.1 297.9" stroke-width="1.1"/>
<path d="M828.5 304 L836.1 299.6" stroke-width="1.1"/>
<path d="M828 306.4 L835.6 302" stroke-width="1.1"/>
<path d="M827.4 307.8 L835 303.4" stroke-width="1.1"/>
<path d="M824.8 306.4 L826.1 309.3 L824.9 309.9 L823.2 307.3 L822.5 307.4 L822.9 310.3 L821.5 310.1 L820.5 307.2 L819.7 306.9 L819.2 309.2 L817.7 308.3 L817.6 305.6 L816.8 304.9 L815.5 306.4 L814.2 304.8 L815 302.8 L814.4 301.9 L812.5 302.1 L811.6 300.2 L813.2 299.3 L812.9 298.2 L810.6 297.3 L810.3 295.4 L812.5 295.6 L812.5 294.7 L810.3 292.7 L810.6 291.1 L812.9 292.5 L813.2 291.8 L811.6 289.1 L812.5 288.1 L814.5 290.4 L815.1 290.1 L814.2 287.2 L815.5 287 L816.9 289.7 L817.7 289.8 L817.7 287.2 L819.2 287.8 L819.7 290.6 L820.6 291.1 L821.5 289.2 L823 290.5 L822.5 292.9 L823.2 293.7 L825 292.8 L826.1 294.6 L824.8 296.1 L825.3 297.1 L827.4 297.4 L828.1 299.4 L826.1 299.8 L826.3 300.8 L828.5 302.3 L828.5 304 L826.3 303.3 L826.1 304.1 L828 306.4 L827.4 307.8 L825.3 305.9Z" stroke-width="1.6" fill="#fff"/>
<ellipse cx="819.4" cy="298.6" rx="6.3" ry="3.9" stroke-width="1.5" transform="rotate(61 819.4 298.6)"/>
<ellipse cx="819.9" cy="298.4" rx="3.8" ry="2.3" stroke-width="1.6" fill="#fff" transform="rotate(61 819.9 298.4)"/>
<path d="M424.2 527.4 L425.5 530.3 L424.3 530.9 L422.6 528.3 L421.9 528.4 L422.3 531.3 L420.9 531.1 L419.9 528.2 L419.1 527.9 L418.6 530.2 L417.1 529.3 L417 526.6 L416.2 525.9 L414.9 527.4 L413.6 525.8 L414.4 523.8 L413.8 522.9 L411.9 523.1 L411 521.2 L412.6 520.3 L412.3 519.2 L410 518.3 L409.7 516.4 L411.9 516.6 L411.9 515.7 L409.7 513.7 L410 512.1 L412.3 513.5 L412.6 512.8 L411 510.1 L411.9 509.1 L413.9 511.4 L414.5 511.1 L413.6 508.2 L414.9 508 L416.3 510.7 L417.1 510.8 L417.1 508.2 L418.6 508.8 L419.1 511.6 L420 512.1 L420.9 510.2 L422.4 511.5 L421.9 513.9 L422.6 514.7 L424.4 513.8 L425.5 515.6 L424.2 517.1 L424.7 518.1 L426.8 518.4 L427.5 520.4 L425.5 520.8 L425.7 521.8 L427.9 523.3 L427.9 525 L425.7 524.3 L425.5 525.1 L427.4 527.4 L426.8 528.8 L424.7 526.9Z" stroke-width="1.2" fill="#fff"/>
<path d="M419.6 530.8 L416.9 531.7 L414 531.6 L411.2 530.7 L408.7 528.8 L406.9 526.3 L405.7 523.4 L405.5 520.3 L406.1 517.4 L407.6 514.9 L409.8 513.1 L412.5 512.2 L415.4 512.3 L418.2 513.2 L420.7 515.1 L422.5 517.6 L423.7 520.5 L423.9 523.6 L423.3 526.5 L421.8 529 L419.6 530.8Z" fill="#fff" stroke="none"/>
<path d="M417.3 535 L425.5 530.3" stroke-width="1.1"/>
<path d="M416.1 535.6 L424.3 530.9" stroke-width="1.1"/>
<path d="M414.1 536 L422.3 531.3" stroke-width="1.1"/>
<path d="M412.7 535.8 L420.9 531.1" stroke-width="1.1"/>
<path d="M410.4 534.9 L418.6 530.2" stroke-width="1.1"/>
<path d="M408.9 534 L417.1 529.3" stroke-width="1.1"/>
<path d="M406.7 532.1 L414.9 527.4" stroke-width="1.1"/>
<path d="M405.4 530.5 L413.6 525.8" stroke-width="1.1"/>
<path d="M403.7 527.8 L411.9 523.1" stroke-width="1.1"/>
<path d="M402.8 525.9 L411 521.2" stroke-width="1.1"/>
<path d="M401.8 523 L410 518.3" stroke-width="1.1"/>
<path d="M401.5 521.1 L409.7 516.4" stroke-width="1.1"/>
<path d="M401.5 518.4 L409.7 513.7" stroke-width="1.1"/>
<path d="M401.8 516.8 L410 512.1" stroke-width="1.1"/>
<path d="M402.8 514.8 L411 510.1" stroke-width="1.1"/>
<path d="M403.7 513.8 L411.9 509.1" stroke-width="1.1"/>
<path d="M405.4 512.9 L413.6 508.2" stroke-width="1.1"/>
<path d="M406.7 512.7 L414.9 508" stroke-width="1.1"/>
<path d="M408.9 512.9 L417.1 508.2" stroke-width="1.1"/>
<path d="M410.4 513.5 L418.6 508.8" stroke-width="1.1"/>
<path d="M412.7 514.9 L420.9 510.2" stroke-width="1.1"/>
<path d="M414.2 516.2 L422.4 511.5" stroke-width="1.1"/>
<path d="M416.2 518.5 L424.4 513.8" stroke-width="1.1"/>
<path d="M417.3 520.3 L425.5 515.6" stroke-width="1.1"/>
<path d="M418.6 523.1 L426.8 518.4" stroke-width="1.1"/>
<path d="M419.3 525.1 L427.5 520.4" stroke-width="1.1"/>
<path d="M419.7 528 L427.9 523.3" stroke-width="1.1"/>
<path d="M419.7 529.7 L427.9 525" stroke-width="1.1"/>
<path d="M419.2 532.1 L427.4 527.4" stroke-width="1.1"/>
<path d="M418.6 533.5 L426.8 528.8" stroke-width="1.1"/>
<path d="M416 532.1 L417.3 535 L416.1 535.6 L414.4 533 L413.7 533.1 L414.1 536 L412.7 535.8 L411.7 532.9 L410.9 532.6 L410.4 534.9 L408.9 534 L408.8 531.3 L408 530.6 L406.7 532.1 L405.4 530.5 L406.2 528.5 L405.6 527.6 L403.7 527.8 L402.8 525.9 L404.4 525 L404.1 523.9 L401.8 523 L401.5 521.1 L403.7 521.3 L403.7 520.4 L401.5 518.4 L401.8 516.8 L404.1 518.2 L404.4 517.5 L402.8 514.8 L403.7 513.8 L405.7 516.1 L406.3 515.8 L405.4 512.9 L406.7 512.7 L408.1 515.4 L408.9 515.5 L408.9 512.9 L410.4 513.5 L410.9 516.3 L411.8 516.8 L412.7 514.9 L414.2 516.2 L413.7 518.6 L414.4 519.4 L416.2 518.5 L417.3 520.3 L416 521.8 L416.5 522.8 L418.6 523.1 L419.3 525.1 L417.3 525.5 L417.5 526.5 L419.7 528 L419.7 529.7 L417.5 529 L417.3 529.8 L419.2 532.1 L418.6 533.5 L416.5 531.6Z" stroke-width="1.6" fill="#fff"/>
<ellipse cx="410.6" cy="524.3" rx="6.3" ry="3.9" stroke-width="1.5" transform="rotate(61 410.6 524.3)"/>
<ellipse cx="411.1" cy="524.1" rx="3.8" ry="2.3" stroke-width="1.6" fill="#fff" transform="rotate(61 411.1 524.1)"/>
<ellipse cx="469.1" cy="490.3" rx="9.2" ry="5.8" stroke-width="1.2" fill="#222" transform="rotate(61 469.1 490.3)"/>
<path d="M452.1 489.5 L464.6 482.3 L473.6 498.3 L461.1 505.5Z" fill="#222" stroke="#000" stroke-width="1.2"/>
<path d="M454.7 490.6 l10 -5.8" stroke="#fff" stroke-width="1.3"/>
<path d="M455.8 492.6 l10 -5.8" stroke="#fff" stroke-width="1.3"/>
<path d="M457 494.6 l10 -5.8" stroke="#fff" stroke-width="1.3"/>
<path d="M458.1 496.6 l10 -5.8" stroke="#fff" stroke-width="1.3"/>
<path d="M459.2 498.6 l10 -5.8" stroke="#fff" stroke-width="1.3"/>
<path d="M460.4 500.6 l10 -5.8" stroke="#fff" stroke-width="1.3"/>
<path d="M461.5 502.6 l10 -5.8" stroke="#fff" stroke-width="1.3"/>
<ellipse cx="456.6" cy="497.5" rx="12.2" ry="7.4" stroke-width="1.4" fill="#fff" transform="rotate(61 456.6 497.5)"/>
<ellipse cx="456" cy="497.9" rx="10" ry="5.8" stroke-width="1.0" transform="rotate(61 456 497.9)"/>
<ellipse cx="456.2" cy="498.1" rx="6" ry="3.9" stroke-width="1.6" fill="#fff" transform="rotate(61 456.2 498.1)"/>
<ellipse cx="456.4" cy="498.3" rx="2.6" ry="1.9" stroke-width="1.6" fill="#fff" transform="rotate(61 456.4 498.3)"/>
<ellipse cx="778.6" cy="319.2" rx="12.2" ry="7.4" stroke-width="1.2" fill="#fff" transform="rotate(61 778.6 319.2)"/>
<ellipse cx="777.2" cy="320" rx="12.2" ry="7.4" stroke-width="1.4" fill="#fff" transform="rotate(61 777.2 320)"/>
<path d="M781.7 328 L772.2 333.4 L763.2 317.4 L772.7 312Z" fill="#222" stroke="#000" stroke-width="1.2"/>
<path d="M779.4 326.7 l-7.6 4.3" stroke="#fff" stroke-width="1.3"/>
<path d="M778.3 324.7 l-7.6 4.3" stroke="#fff" stroke-width="1.3"/>
<path d="M777.2 322.7 l-7.6 4.3" stroke="#fff" stroke-width="1.3"/>
<path d="M776.1 320.6 l-7.6 4.3" stroke="#fff" stroke-width="1.3"/>
<path d="M774.9 318.6 l-7.6 4.3" stroke="#fff" stroke-width="1.3"/>
<path d="M773.8 316.6 l-7.6 4.3" stroke="#fff" stroke-width="1.3"/>
<path d="M772.7 314.6 l-7.6 4.3" stroke="#fff" stroke-width="1.3"/>
<ellipse cx="767.7" cy="325.4" rx="9.2" ry="5.8" stroke-width="1.4" fill="#fff" transform="rotate(61 767.7 325.4)"/>
<ellipse cx="766.8" cy="325.9" rx="6.8" ry="4.5" stroke-width="1.6" fill="#fff" transform="rotate(61 766.8 325.9)"/>
<ellipse cx="764.4" cy="327.3" rx="6.2" ry="4.2" stroke-width="1.4" fill="#fff" transform="rotate(61 764.4 327.3)"/>
<ellipse cx="764.1" cy="327.5" rx="4.2" ry="2.9" stroke-width="1.0" transform="rotate(61 764.1 327.5)"/>
<path d="M363.3 554.3 L367.5 551.9" stroke="#000" stroke-width="3.6" stroke-linecap="butt" fill="none"/>
<path d="M363.3 554.3 L367.5 551.9" stroke="#fff" stroke-width="1.6" stroke-linecap="butt" fill="none"/>
<ellipse cx="367.7" cy="551.8" rx="1.5" ry="1" stroke-width="1.0" fill="#fff" transform="rotate(61 367.7 551.8)"/>
<ellipse cx="363.1" cy="554.5" rx="4.4" ry="3.1" stroke-width="1.1" fill="#fff" transform="rotate(61 363.1 554.5)"/>
<ellipse cx="362.3" cy="554.9" rx="4.4" ry="3.1" stroke-width="1.2" fill="#fff" transform="rotate(61 362.3 554.9)"/>
<path d="M360.8 553.5 L363.1 556.5" stroke-width="1.0"/>
<ellipse cx="859.6" cy="275.4" rx="4.2" ry="3.2" stroke-width="1.0" fill="#fff" transform="rotate(61 859.6 275.4)"/>
<ellipse cx="858.8" cy="275.8" rx="2" ry="1.5" stroke-width="1.2" transform="rotate(61 858.8 275.8)"/>
<path d="M858.6 276 L855 278" stroke="#000" stroke-width="3.1" stroke-linecap="butt" fill="none"/>
<path d="M858.6 276 L855 278" stroke="#fff" stroke-width="1.3" stroke-linecap="butt" fill="none"/>
<ellipse cx="854.8" cy="278.2" rx="1.3" ry="0.9" stroke-width="0.9" fill="#fff" transform="rotate(61 854.8 278.2)"/>
<path d="M498.6 430.2 L505.8 434.2" stroke="#000" stroke-width="3.4" stroke-linecap="butt" fill="none"/>
<path d="M498.6 430.2 L505.8 434.2" stroke="#fff" stroke-width="1.4" stroke-linecap="butt" fill="none"/>
<ellipse cx="498.6" cy="430.2" rx="1.3" ry="1" stroke-width="1.0" fill="#fff"/>
<ellipse cx="505.8" cy="434.2" rx="1.3" ry="1" stroke-width="1.0" fill="#fff"/>
</g>
<g id="p34_bracket51">
<path d="M650.7 282 L648.8 260.5 L678.4 244.1 L678.8 253" stroke-width="2.0"/>
<path d="M655.4 287.8 L655.4 269.1 L692.9 268.3 L692.9 285.5" stroke-width="2.2"/>
<path d="M476.8 521.6 L480.5 518.7 L499.7 517.2 L500.4 512.8 L507.8 508.7 L525.5 504.7 L529.9 503.6 L532.4 503.3 L534.4 503.2 L536.1 503.1 L538 503 L540.3 502.7 L543.4 502.3 L547.7 501.5 L553.5 500.3 L559.1 499.1 L562.8 498.4 L565.5 497.9 L567.6 497.4 L569.8 496.8 L572.7 495.9 L576.9 494.3 L583.1 492.1 L589.4 489.8 L593.7 488 L596.8 486.7 L599.1 485.5 L601.3 484.3 L603.9 483 L607.5 481.2 L612.6 478.9 L617.6 476.9 L620.6 476 L622.3 475.7 L623.3 475.8 L624.1 475.7 L625.5 475.1 L627.9 473.6 L632.1 470.8 L636.6 467.7 L639.8 465.5 L642.1 463.7 L644 462.1 L645.7 460.2 L647.8 457.9 L650.5 454.6 L654.3 450.2 L658.1 445.8 L660.7 442.5 L662.4 440.2 L663.5 438.4 L664.3 436.7 L665.1 434.9 L666.1 432.6 L667.6 429.5 L669 426.5 L669.6 424.7 L669.7 423.7 L669.4 423.2 L669 423 L668.7 422.8 L668.7 422.1 L669.3 420.7 L670.2 419.1 L670.9 418 L671.6 417.2 L672.3 416.7 L672.9 416.2 L673.6 415.9 L674.2 415.4 L674.9 414.8 L713.3 431.7 L723.6 435.4 L762 453.1 L763.5 456.1 L763.5 473.8 L728.1 494.4 L726.6 501.8 L692.6 516.6 L687.5 521 L677.9 525.4 L669 525.4 L566.8 579.9 L520.3 554.4 L507.8 557.1 L504.1 557.1 L485.7 552.6 L481.2 548.2 L479.8 528.3Z" stroke-width="1.3" fill="#fff"/>
<path d="M698.5 442.8 C689.7 447.5 691.7 445.5 672 456.8 C652.3 468.1 659.3 464.4 639.5 476.7 C619.7 489 631.4 483 612.6 493.6 C593.8 504.2 604 499.1 583.1 508.4 C562.2 517.7 561 517.2 549.9 521.6"/>
<path d="M547.6 525.3 C559.4 520.9 561.4 521.2 583.1 512.1 C604.8 503 593.3 508.1 612.6 498 C631.9 487.9 623.2 492.2 641 481.9 C658.8 471.6 657.7 472 666.1 467.1"/>
<path d="M672 427.3 L698.5 442.5"/>
<path d="M669 420.7 L672 427.3"/>
<path d="M661.6 444.3 L669 448.7 L663.9 450.9 L670.5 446.5 L665.3 445 L667.6 451.6" stroke-width="1.0"/>
<path d="M674.9 418.4 L679.4 419.9 L677.1 417" stroke-width="1.0"/>
<path d="M479.8 528.3 L489.3 526.1 L500.4 526.8 L499.7 517.2"/>
<path d="M489.3 526.1 L487.1 552.6"/>
<path d="M500.4 526.8 L501.2 554.9"/>
<path d="M500.4 526.8 L524 543.8 L520.3 554.4"/>
<path d="M500.4 512.8 L519.6 518.7 L524 514.3 L507.8 508.7"/>
<path d="M519.6 518.7 L520.3 535.7 L523.3 534.9 L523.3 518.7"/>
<path d="M524 514.3 L529.9 524.6 L541.7 519.4 L542.5 536.4 L546.9 534.9 L546.9 518 L541.7 519.4"/>
<path d="M529.9 524.6 L528.5 533.5"/>
<path d="M525.5 504.7 L534.4 506.9 L541.7 519.4"/>
<path d="M524 514.3 L530.7 506.2"/>
<ellipse cx="515.5" cy="520.9" rx="2.4" ry="3" stroke-width="1.2" fill="#444"/>
<ellipse cx="528.5" cy="506.2" rx="3" ry="1.6" stroke-width="1.0" transform="rotate(30 528.5 506.2)"/>
<path d="M524 543.8 L541.7 552.6"/>
<path d="M541.7 552.6 C542.4 555.6 540.7 556.6 543.9 561.5 C547.1 566.4 546.1 565.9 551.3 567.4 C556.5 568.9 555.5 567.6 559.4 565.9 C563.3 564.2 561.9 563.4 563.1 562.2" stroke-width="1.4"/>
<path d="M548.4 549.7 C549.1 552.2 547.9 552.9 550.6 557.1 C553.3 561.3 553.1 561.2 556.5 562.2 C559.9 563.2 559.4 560.7 560.9 560" stroke-width="1.2"/>
<path d="M550.6 548.2 C552.6 550.2 551.1 551.9 556.5 554.1 C561.9 556.3 565.8 553.4 566.8 554.9 C567.8 556.4 561.9 557.3 559.4 558.5" stroke-width="1.2"/>
<path d="M563.1 562.2 L565.3 561.5 L566.8 579.9"/>
<path d="M565.3 561.5 L581.6 553.4 L646.9 517.3 L668.3 505.5"/>
<path d="M524 543.8 L534.4 536.4 L541.7 540.8 L547.6 539.4 L574.2 552.6 L581.6 553.4"/>
<path d="M541.7 540.8 L538.8 545.3 L566.8 557.1 L574.2 552.6"/>
<ellipse cx="545" cy="544.8" rx="2.2" ry="1.4" stroke-width="1.0" fill="#222"/>
<ellipse cx="573.5" cy="553.1" rx="2.2" ry="1.4" stroke-width="1.0" fill="#222"/>
<path d="M548.4 539.4 L555.8 535.7 L563.1 539.4 L555 543.8Z"/>
<path d="M548.4 539.4 L548.8 541.6 L555.3 546 L563.1 542 L563.1 539.4"/>
<path d="M552.8 534.9 L552.8 529.8 L559.4 527.6 L560.2 532"/>
<path d="M556.5 533.5 L559.4 535.7 L560.9 533.5" stroke-width="1.4"/>
<path d="M547.6 520.9 L635 471.5"/>
<path d="M549.1 526.8 L609.6 496.6"/>
<path d="M560.9 528.3 L590.4 532.7 L587.5 515 L614 518 L610.4 497.3 L635 501.7" stroke-width="1.2"/>
<path d="M559.4 530.5 L568.3 537.9 L574.2 539.4 L573.5 536.4 L581.6 534.9" stroke-width="1.1"/>
<path d="M617 503.2 L630.3 509.1" stroke-width="1.6"/>
<path d="M577.9 546.7 L583.1 543 L587.5 547.5 L591.9 540.8 L594.9 544.5 L598.6 538.6 L602.2 540.8 L611.1 534.2" stroke-width="1.5"/>
<path d="M583.1 546.7 L612.6 530.5 L625.9 527.6 L635 520.9" stroke-width="1.2"/>
<path d="M624.4 522.4 L627.3 527.6 L635 523.9" stroke-width="1.2"/>
<path d="M613 501.8 L629.2 509.2" stroke-width="1.8"/>
<path d="M610 516.6 L618.9 513.6 L613 503.3 L641.7 500.3 L644.7 480.4 L649.8 494.4" stroke-width="1.2"/>
<path d="M645.4 481.2 L658.7 487.1" stroke-width="1.0"/>
<path d="M647.6 485.6 L650.6 497.4" stroke-width="1.5"/>
<path d="M651.3 478.9 L652.1 474.5 L654.3 473.8" stroke-width="1.0"/>
<path d="M639.5 513.6 L654.3 507 L661.6 509.9 L645.4 518.1Z" stroke-width="1.1"/>
<ellipse cx="648.1" cy="512.2" rx="2" ry="1.4" stroke-width="1.0"/>
<path d="M624.8 522.5 L628.4 527.6 L639.5 521.7" stroke-width="1.1"/>
<path d="M610 529.9 L624.8 522.5 L639.5 514.4" stroke-width="1.1"/>
<path d="M666.8 466.4 L673.5 461.2 L680.8 466.4 L682.3 482.6 L686.7 488.5 L687.5 521 L677.9 525.4 L669 525.4 L668.3 503.3 L673.5 495.9 L672 470.8Z" stroke-width="1.3" fill="#fff"/>
<path d="M673.5 495.9 L678.6 503.3 L677.9 525.4"/>
<path d="M678.6 503.3 L686.7 494.4"/>
<path d="M673.5 485.6 L682.3 482.6"/>
<path d="M672 470.8 L675.7 469.4 L680.8 466.4"/>
<path d="M666.8 466.4 L665.3 476.7 L661.6 480.4 L658.7 506.2 L668.3 505.5"/>
<path d="M665.3 476.7 L669 478.2 L663.9 503.3"/>
<path d="M674.2 467.1 L677.9 467.9 L677.9 472.3 L674.9 473Z" stroke-width="1.2"/>
<path d="M670.5 464.9 L671.2 462.7 L675.7 463.5" stroke-width="1.0"/>
<path d="M707.4 444.3 L723.6 435.4 L728.1 436.9"/>
<path d="M707.4 444.3 L707.4 456.1"/>
<path d="M719.9 458.3 L722.9 459 L723.6 437.6"/>
<path d="M707.4 444.3 L719.2 450.2"/>
<path d="M719.9 445.7 L726.6 442.8 L735.4 446.5 L734.7 450.2 L728.8 453.4 L720.7 449.4Z" stroke-width="1.4" fill="#fff"/>
<path d="M724.4 444.3 L724.4 450.2 L728.1 452.4" stroke-width="1.2"/>
<path d="M728.1 447.2 L734 448" stroke-width="1.2"/>
<path d="M736.9 449.4 L739.9 450.9" stroke-width="1.0"/>
<path d="M738.4 460.5 L748 455.3 L752.4 457.6 L756.1 453.9 L762 453.1"/>
<path d="M738.4 460.5 L746.5 464.9 L746.5 470.8 L763.5 462"/>
<path d="M746.5 464.9 L752.4 457.6"/>
<path d="M730.3 469.4 L738.4 464.9 L746.5 469.4 L734 477.5 L730.3 469.4"/>
<ellipse cx="747.2" cy="460.1" rx="2" ry="1.4" stroke-width="1.0" fill="#222"/>
<ellipse cx="735.4" cy="472.3" rx="2" ry="1.4" stroke-width="1.0"/>
<path d="M734 477.5 L732.5 482.6 L728.1 485.6 L727.3 494.4"/>
<path d="M730.3 469.4 L731.7 478.2"/>
<path d="M687.5 505.5 L692.6 503.3 L728.1 485.6" stroke-width="1.1"/>
<path d="M697.1 506.2 L701.5 501.8 L710.3 498.9 L719.2 494.4 L726.6 488.5" stroke-width="1.6" stroke-dasharray="4 1.5"/>
<path d="M688.2 512.2 L695.6 509.9 L726.6 494.4" stroke-width="1.0"/>
<path d="M691.9 495.9 L691.9 506.2 L695.6 509.9" stroke-width="1.0"/>
<path d="M728.1 494.4 L763.5 473.8"/>
</g>
<g id="p35_cover22">
<path d="M824.5 479.9 L909.4 494.4 L928.1 500.3 L937.5 504.2 L949.2 509.6 L950.8 508.7 L952.1 507.8 L953.3 506.9 L954.9 505.9 L957.3 504.9 L960.9 503.8 L964.3 502.8 L966.3 502.1 L967.7 501.7 L969.1 501.7 L971.3 502 L975 502.6 L978.7 503.2 L980.9 503.5 L982.4 503.9 L983.7 504.7 L985.7 506.1 L989.1 508.5 L992.5 510.8 L994.6 512.1 L995.8 513 L996.9 514.3 L998.4 516.5 L1000.8 520.2 L1003.3 523.9 L1004.7 526 L1005.4 527.5 L1005.9 529.2 L1006.6 532 L1007.8 536.6 L1009 541.4 L1009.6 544.7 L1009.8 547 L1009.9 549.1 L1010.1 551.6 L1010.6 555.3 L1011.2 558.8 L1011.6 560.8 L1011.9 561.7 L1012.1 562.2 L1012.2 562.6 L1012.5 563.5 L1012 575.3 L857.8 663.2 L848.4 670.2 L840.2 670.7 L836.7 665.5 L835.5 639.7 L833.2 628 L830.9 618.6 L788.7 602.2 L787.5 595.2 L808.6 588.2 L827.3 583.5 L843.8 578.8 L844.8 577.5 L845.9 576.5 L847 575.6 L848 574.3 L848.9 572.3 L849.6 569.4 L850.1 566.5 L850.3 564.6 L850.2 563.2 L849.7 561.9 L848.8 560.2 L847.3 557.7 L845.9 555.3 L844.9 554 L844 553.3 L843 552.8 L841.4 552.1 L839.1 550.7 L836.7 549.2 L834.9 548.2 L833.6 547.7 L832.6 547.3 L831.5 547 L830.2 546.4 L828.5 542.5 L823.1 541.3 L820.3 547.1 L808.6 548.3 L806.9 547.4 L805.4 546.7 L803.9 546 L802.2 545 L799.9 543.6 L796.9 541.3 L794 539.1 L792.2 537.8 L791 536.9 L790.1 535.9 L789.1 534.4 L787.5 531.9 L785.9 529.4 L785 527.7 L784.6 526.6 L784.6 525.6 L784.8 524.4 L785.2 522.5 L785.5 520.7 L785.6 519.9 L785.9 519.5 L786.5 519.4 L787.8 518.9 L789.8 517.8 L791.8 516.7 L793.1 516.3 L794.1 516.1 L795.3 515.8 L797.2 514.9 L800.4 513.2 L803.6 511.3 L805.8 510.1 L807.3 509.1 L808.7 508 L810.6 506.3 L813.3 503.8 L815.9 501.5 L817.2 500.3 L817.9 499.7 L818.3 499 L818.9 497.4 L820.3 494.4 L821.8 490.9 L822.7 488.2 L823.3 486 L823.6 484 L824 482.1 L824.5 479.9Z" stroke-width="1.25" fill="#fff"/>
<path d="M816.8 500.3 L806.2 498.6 L801.1 503.8 L811.4 506.1 L818 501.4"/>
<path d="M789.8 519 C803.1 522.5 803.1 522.6 829.7 529.6 C856.3 536.6 846.1 531.5 869.5 540.1 C892.9 548.7 883.6 544.7 900 555.3 C916.4 565.9 908.6 560.1 918.8 571.8 C929 583.5 925.8 579.2 930.5 590.5 C935.2 601.8 932 600.6 932.8 605.7"/>
<path d="M869.5 540.1 C871.1 537 867.2 538.1 874.2 530.7 C881.2 523.3 878.9 526.8 890.6 517.8 C902.3 508.8 898.5 509.6 909.4 503.8 C920.3 498 914.8 500.3 923.4 500.3 C932 500.3 926.6 500.3 935.2 503.8 C943.8 507.3 937.5 501.4 949.2 510.8 C960.9 520.2 958.6 517.8 970.3 531.9 C982 546 978 540.1 984.4 553 C990.8 565.9 987.8 564.7 989.5 570.6"/>
<path d="M873.8 534.2 C879.4 538.1 878.7 537.4 890.6 546 C902.5 554.6 898.5 549.9 909.4 560 C920.3 570.1 916.4 566.2 923.4 576.4 C930.4 586.6 928.1 585.8 930.5 590.5"/>
<path d="M989.5 570.6 L932.8 605.7"/>
<path d="M843.8 578.8 C846.9 578 846.1 576.8 853.1 576.4 C860.1 576 855.4 574.5 864.8 577.6 C874.2 580.7 871 579.2 881.2 585.8 C891.4 592.4 888.3 589.7 895.3 597.5 C902.3 605.3 899.4 603.6 902.3 609.2 C905.2 614.8 903.4 612.7 904 614.4"/>
<path d="M904 614.4 C907.4 612.8 904.5 612.6 914.1 609.7 C923.7 606.8 926.6 607 932.8 605.7"/>
<path d="M932.8 605.7 L1012 564.2"/>
<path d="M855.5 652.6 L904 625.7 L1012 566.6"/>
<path d="M830.9 618.6 C832.8 622.5 832.4 622.5 836.7 630.3 C841 638.1 839.1 636.5 843.8 642.1 C848.5 647.7 846.9 643.7 850.8 647.2 C854.7 650.7 853.4 647.3 855.5 652.6 C857.6 657.9 856.6 659.7 857.1 663.2"/>
<path d="M850.8 647.2 L904 616.3"/>
<path d="M788.7 602.2 C791.4 600.3 789.5 598.7 796.9 596.4 C804.3 594.1 801.5 593.3 810.9 595.2 C820.3 597.1 818 596.7 825 602.2 C832 607.7 828.9 603 832 611.6 C835.1 620.2 833.6 622.5 834.4 628" stroke-width="1.3"/>
<path d="M802.7 609.2 L802.7 639.7 L808.6 636.2 L815.6 642.1 L819.1 650.3 L827.3 646.8 L828.5 628"/>
<path d="M802.7 628 L808.6 623.3 L827.3 633.9 L827.3 646.8"/>
<path d="M808.6 623.3 L808.6 636.2"/>
<path d="M802.7 639.7 C803.5 637.8 802.2 635.6 805.1 633.9 C808 632.2 807.5 631.9 811.4 634.6 C815.3 637.3 814.2 636.9 816.8 642.1 C819.4 647.3 818.3 647.6 819.1 650.3" stroke-width="1.4"/>
<path d="M827.3 633.9 L832.5 631.5 L832.5 642.1 L827.3 646.8"/>
<path d="M791 609.2 L791.5 602.2 L795.2 600.6 L796.2 608.5Z" stroke-width="1.3"/>
<ellipse cx="793.8" cy="605.3" rx="1.6" ry="2" stroke-width="1.1"/>
<path d="M795.2 598.7 L796.7 596.7" stroke-width="1.6"/>
<path d="M797.3 610.4 L797.8 603.4 L801.6 601.8 L802.5 609.7Z" stroke-width="1.3"/>
<ellipse cx="800.2" cy="606.4" rx="1.6" ry="2" stroke-width="1.1"/>
<path d="M801.6 599.9 L803.1 597.9" stroke-width="1.6"/>
<path d="M805.1 612.8 L805.5 605.7 L809.3 604.1 L810.2 612.1Z" stroke-width="1.3"/>
<ellipse cx="807.9" cy="608.8" rx="1.6" ry="2" stroke-width="1.1"/>
<path d="M809.3 602.2 L810.8 600.2" stroke-width="1.6"/>
<path d="M813.3 617.5 L813.8 610.4 L817.5 608.8 L818.4 616.8Z" stroke-width="1.3"/>
<ellipse cx="816.1" cy="613.5" rx="1.6" ry="2" stroke-width="1.1"/>
<path d="M817.5 606.9 L819 604.9" stroke-width="1.6"/>
<path d="M820.8 623.3 L821.2 616.3 L825 614.6 L825.9 622.6Z" stroke-width="1.3"/>
<ellipse cx="823.6" cy="619.3" rx="1.6" ry="2" stroke-width="1.1"/>
<path d="M825 612.8 L826.5 610.8" stroke-width="1.6"/>
<path d="M759.4 610.4 L771.1 603.4 L787.5 612.1 L787.5 623.3 L778.6 627.1 L774.6 618.6 L759.8 612.1Z" stroke-width="1.3" fill="#fff"/>
<path d="M771.1 603.4 L773.4 616.3 L787.5 623.3"/>
<path d="M761.7 612.8 L773.4 616.3"/>
<ellipse cx="777.4" cy="613.5" rx="1.5" ry="1.5" stroke-width="1.1"/>
<ellipse cx="780" cy="623.8" rx="1.5" ry="1.5" stroke-width="1.1"/>
<path d="M771.1 603.4 C774.2 601.1 774.6 599.3 780.5 596.4 C786.4 593.5 786 595.3 788.7 594.7"/>
</g>
<g id="p36_small">
<rect x="705.3" y="524" width="6.6" height="17.7" rx="1.6" fill="#000" stroke="none"/>
<path d="M709.5 514.2 L709.5 524" stroke-width="1.2"/>
<path d="M704.9 535 L705.6 541" stroke-width="1.2"/>
<path d="M726.6 545 L726.6 531 Q726.6 527.5 728.5 527.5 Q730.4 527.5 730.4 531 L730.4 545" stroke-width="1.1" fill="#fff"/>
<path d="M726.6 531.6 Q728.5 533 730.4 531.6" stroke-width="1.0"/>
<path d="M724.6 545 L732.2 545 L732.2 547 L730.6 549.5 L726.4 549.5 L724.6 547Z" stroke-width="1.3" fill="#fff"/>
<path d="M726.6 549.5 L726.6 552.5 L730.2 552.5 L730.2 549.5" stroke-width="1.2"/>
<path d="M727 552.5 L727.2 560.5 L729.6 561 L729.8 552.5" stroke-width="1.0"/>
<path d="M549.3 617.3 l0 -3 q0 -2.6 2 -2.6 q2 0 2 2.6 l0 3" stroke-width="1.3" fill="#fff"/>
<ellipse cx="551.3" cy="619.9" rx="3.8" ry="2.4" stroke-width="1.5" fill="#fff"/>
<ellipse cx="551.3" cy="621.7" rx="3.4" ry="2.2" stroke-width="1.6" fill="#fff"/>
<ellipse cx="551.3" cy="615.7" rx="1" ry="0.8" stroke-width="1.0"/>
<path d="M679.5 1046.5 l0 -3 q0 -2.6 2 -2.6 q2 0 2 2.6 l0 3" stroke-width="1.3" fill="#fff"/>
<ellipse cx="681.5" cy="1049.1" rx="3.8" ry="2.4" stroke-width="1.5" fill="#fff"/>
<ellipse cx="681.5" cy="1050.9" rx="3.4" ry="2.2" stroke-width="1.6" fill="#fff"/>
<ellipse cx="681.5" cy="1044.9" rx="1" ry="0.8" stroke-width="1.0"/>
<path d="M571.6 610 L571.6 603 Q571.6 601.4 573.9 601.4 Q576.2 601.4 576.2 603 L576.2 610" stroke-width="1.4" fill="#fff"/>
<path d="M571.6 603.2 L576.2 603.2" stroke-width="1.6"/>
<ellipse cx="573.9" cy="611.6" rx="3.8" ry="2.6" stroke-width="1.4" fill="#fff"/>
<ellipse cx="573.9" cy="613" rx="3.4" ry="2.4" stroke-width="1.3" fill="#fff"/>
<path d="M572.2 610.5 L572.2 606 M575.6 610.5 L575.6 606" stroke-width="1.0"/>
<rect x="674.8" y="871.6" width="4.6" height="10.2" rx="1.4" fill="#fff" stroke="#000" stroke-width="1.2"/>
<path d="M674.8 873.6 L679.4 873.6" stroke-width="1.6"/>
<rect x="707.4" y="836.5" width="3.8" height="6.5" rx="1.2" fill="#fff" stroke="#000" stroke-width="1.2"/>
<path d="M707.4 838 L711.2 838" stroke-width="1.5"/>
<ellipse cx="709.3" cy="844.4" rx="2.4" ry="1.2" stroke-width="0.8"/>
</g>
<g id="p80_dashed" stroke-dasharray="12.5 4.5" stroke-width="1.15" stroke-linecap="butt">
<path d="M651.3 281.7 L651.3 346.7"/>
<path d="M691.3 285 L691.3 331"/>
<path d="M723.3 332 L723.3 433"/>
<path d="M600 398.3 L600 506.7"/>
<path d="M704 395 L704 475"/>
<path d="M709.3 450 L709.3 523"/>
<path d="M733 346.7 L764 330"/>
<path d="M787.3 315.7 L811.7 303.3"/>
<path d="M835 291.7 L855.7 280"/>
<path d="M368.3 548.3 L403.3 526.7"/>
<path d="M428.3 513.3 L450.7 500"/>
<path d="M478.3 487.7 L530 458.3"/>
<path d="M505 434.3 L545 456"/>
<path d="M651.7 540 L651.7 641.7 L745 690 L745 877"/>
<path d="M550.7 576 L550.7 611"/>
<path d="M573.6 566 L573.6 600"/>
<path d="M407.3 871.7 L407.3 1098.3"/>
<path d="M788.3 918.3 L788.3 973.3 L955 1066.7 L955 1130.7"/>
<path d="M194.7 1195.4 L229.7 1174.6"/>
<path d="M285 1141.3 L295 1136"/>
<path d="M835 1146.7 L805 1164"/>
<path d="M873.3 1160 L815 1190"/>
<path d="M695.5 1229.6 L704.6 1224.8"/>
<path d="M710.1 1221.1 L718.6 1216.9"/>
<path d="M724.7 1213.2 L732 1209.6"/>
<path d="M774.5 1182.5 L776 1181.5"/>
<path d="M780 1179.2 L788.5 1174.4"/>
<path d="M792.7 1171.9 L801.9 1166.5"/>
<path d="M681.7 818.3 L681.7 1038.3" stroke-dasharray="9 2 1.5 2" stroke-width="0.9"/>
</g>
<g id="p90_labels">
<g stroke-width="1">
<path d="M439 188.3 L412.3 211.7"/>
<path d="M552.3 245 L540.7 261.7"/>
<path d="M692.3 221.7 L681.7 244.3"/>
<path d="M736.7 308.3 L727.3 320"/>
<path d="M575.7 383.3 L594 390"/>
<path d="M737.3 396.7 L714 381.7"/>
<path d="M481.7 432.3 L497.3 433.3"/>
<path d="M831 211.7 L844 220"/>
<path d="M871.7 289.3 L861 279"/>
<path d="M839.3 316.7 L831.7 310.7"/>
<path d="M794.3 346.7 L777.7 333.3"/>
<path d="M436.7 478.3 L454 487.3"/>
<path d="M385.7 504 L404.3 516"/>
<path d="M345 544 L359.3 552.3"/>
<path d="M462.3 565.7 L524.3 563.3"/>
<path d="M526.7 618.3 L546 618.3"/>
<path d="M579.3 608.3 L601.7 608.3"/>
<path d="M908.7 470.7 L908.7 491.7"/>
<path d="M707.4 561 L705.2 541"/>
<path d="M729.3 582.7 L727.3 558.3"/>
<path d="M712.7 551.7 L720.7 556"/>
<path d="M259 1076.7 L270 1082.3"/>
<path d="M195.7 1093.3 L209 1109"/>
<path d="M162.7 1161 L184 1191.7"/>
<path d="M86.7 1172.3 L108.3 1202.7"/>
<path d="M456 1042.7 L452.7 1075"/>
<path d="M700 1064 L687.3 1057.3"/>
<path d="M690.7 1149.3 L699.3 1156.7"/>
<path d="M596 1210 L609.3 1230.7"/>
<path d="M675 1220.7 L682.3 1228.3"/>
<path d="M885 1099.3 L898.3 1105.7"/>
<path d="M1018.3 1139 L1005 1131.7"/>
<path d="M842.3 1216 L828.3 1203.3"/>
<path d="M658 889.2 L670.8 882"/>
</g>
<text class="lbl" transform="translate(440.7 185) scale(0.844 1)">27</text>
<text class="lbl" transform="translate(554.4 242.3) scale(0.814 1)">52</text>
<text class="lbl" transform="translate(694.1 220) scale(0.772 1)">13</text>
<text class="lbl" transform="translate(820.9 212) scale(0.831 1)">33</text>
<text class="lbl" transform="translate(881.4 304.3) scale(0.814 1)">30</text>
<text class="lbl" transform="translate(854.9 331) scale(0.795 1)">29A</text>
<text class="lbl" transform="translate(740.7 305) scale(0.844 1)">23</text>
<text class="lbl" transform="translate(800 360) scale(0.835 1)">2</text>
<text class="lbl" transform="translate(749 410.8) scale(0.759 1)">31</text>
<text class="lbl" transform="translate(561.5 391) scale(0.827 1)">23</text>
<text class="lbl" transform="translate(470.9 440) scale(0.831 1)">35</text>
<text class="lbl" transform="translate(430.9 478.3) scale(0.862 1)">2</text>
<text class="lbl" transform="translate(375.5 502.3) scale(0.827 1)">29</text>
<text class="lbl" transform="translate(334.6 544.7) scale(0.814 1)">30</text>
<text class="lbl" transform="translate(446.2 576.3) scale(0.801 1)">51</text>
<text class="lbl" transform="translate(514.1 625.7) scale(0.831 1)">50</text>
<text class="lbl" transform="translate(613 615.7) scale(0.818 1)">38</text>
<text class="lbl" transform="translate(911.4 468.3) scale(0.814 1)">22</text>
<text class="lbl" transform="translate(697.5 572.3) scale(0.776 1)">21</text>
<text class="lbl" transform="translate(724.6 598.3) scale(0.814 1)">49</text>
<text class="lbl" transform="translate(646.5 900) scale(0.822 1)">38</text>
<text class="lbl" transform="translate(248.8 1078.3) scale(0.801 1)">19</text>
<text class="lbl" transform="translate(183 1089.3) scale(0.818 1)">34</text>
<text class="lbl" transform="translate(154.5 1159.3) scale(0.801 1)">32</text>
<text class="lbl" transform="translate(81.3 1170) scale(0.814 1)">54</text>
<text class="lbl" transform="translate(456.4 1040) scale(0.814 1)">28</text>
<text class="lbl" transform="translate(712 1077.3) scale(0.818 1)">50</text>
<text class="lbl" transform="translate(681.2 1148.3) scale(0.801 1)">33</text>
<text class="lbl" transform="translate(587 1208.3) scale(0.818 1)">54</text>
<text class="lbl" transform="translate(665.5 1218.3) scale(0.801 1)">32</text>
<text class="lbl" transform="translate(875.4 1100.7) scale(0.814 1)">19</text>
<text class="lbl" transform="translate(1029.2 1151.7) scale(0.831 1)">26</text>
<text class="lbl" transform="translate(853 1225) scale(0.818 1)">48</text>
<text class="cp" x="575.8" y="1411.2" textLength="211" lengthAdjust="spacingAndGlyphs">Copyright © Briggs &amp; Stratton, LLC. All rights reserved.</text>
</g>
</svg></body></html>
